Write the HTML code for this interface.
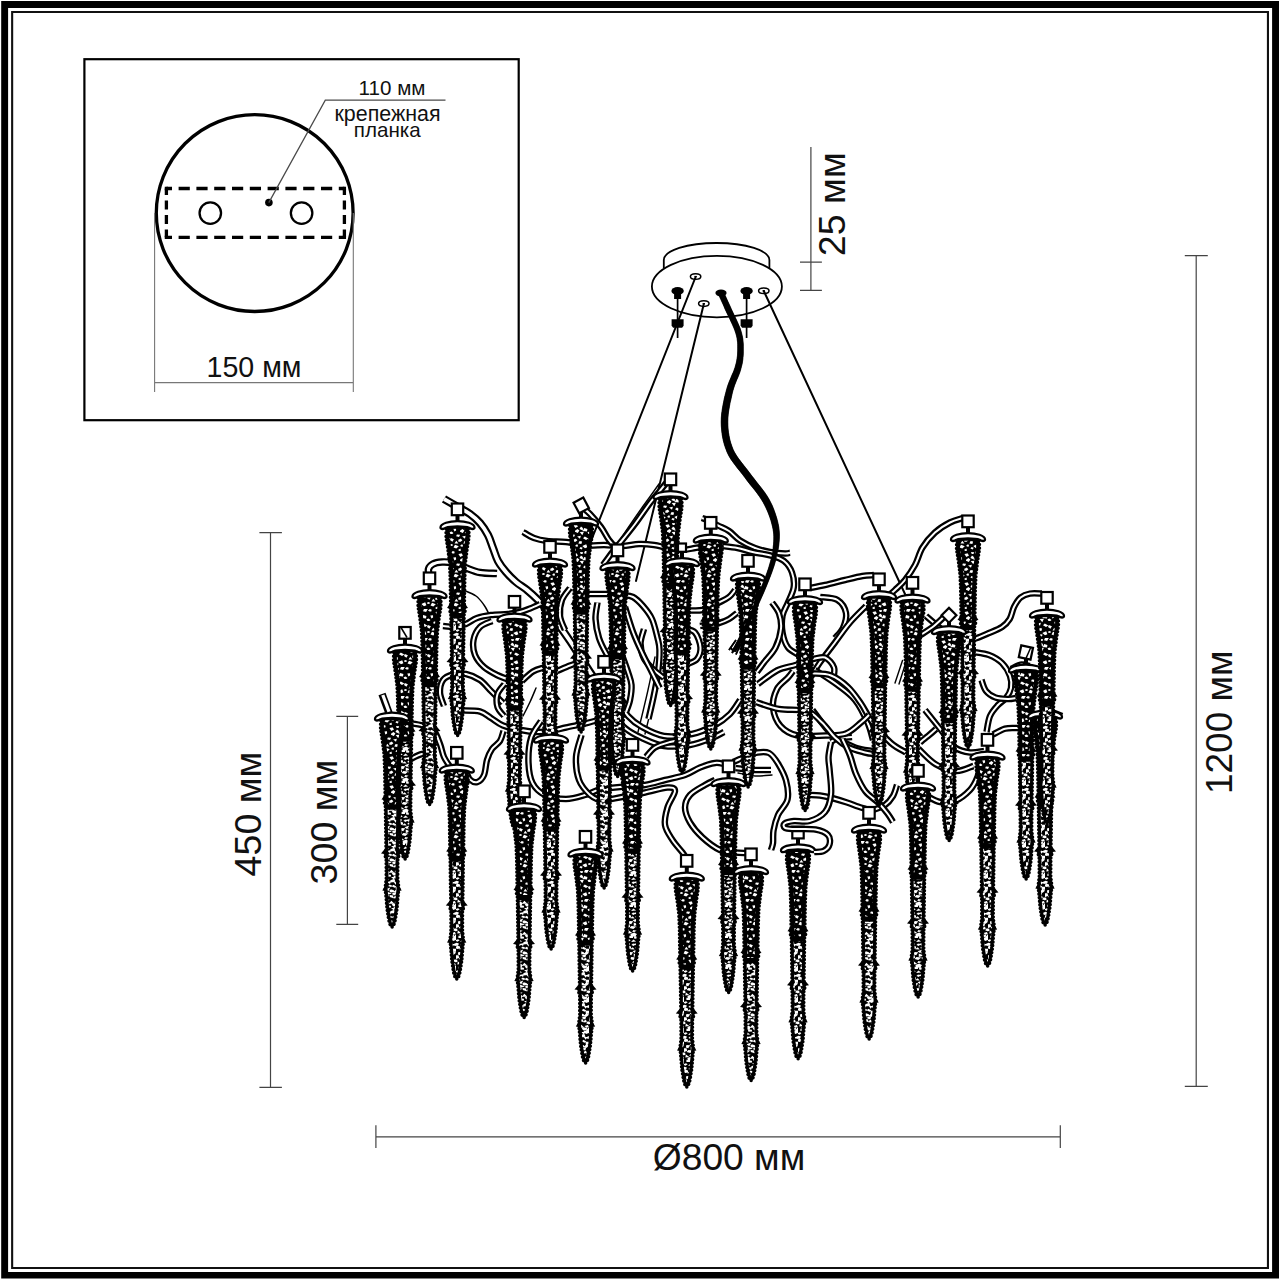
<!DOCTYPE html>
<html lang="ru"><head><meta charset="utf-8"><title>Схема люстры</title>
<style>
html,body{margin:0;padding:0;background:#fff}
body{width:1280px;height:1280px;overflow:hidden;font-family:"Liberation Sans",sans-serif}
svg{display:block}
text{font-family:"Liberation Sans",sans-serif;fill:#111}
.bd{fill:none;stroke:#000;stroke-width:3.4;stroke-linecap:round;stroke-linejoin:round;stroke-dasharray:0.1 3.5}
.bk{fill:none;stroke:#000;stroke-width:3.6;stroke-linejoin:round}
.sp1{fill:none;stroke:#fff;stroke-width:3.1;stroke-dasharray:3.1 2.1 3.8 2.7 2.6 1.9}
.sp2{fill:none;stroke:#fff;stroke-width:2.8;stroke-dasharray:2.4 3.1 3.3 2.2 2.9 3.6}
.cp{fill:#fff;stroke:#000;stroke-width:2.3;stroke-linejoin:round}
.sq{fill:#fff;stroke:#000;stroke-width:2.2}
.st{fill:none;stroke:#000;stroke-width:4}
.ln{fill:none;stroke:#000;stroke-width:1.5}
.to{fill:none;stroke:#000;stroke-width:6.5;stroke-linecap:butt;stroke-linejoin:round}
.ti{fill:none;stroke:#fff;stroke-width:2;stroke-linecap:butt;stroke-linejoin:round}
.wr{fill:none;stroke:#000;stroke-linecap:round}
.dim{fill:none;stroke:#444;stroke-width:1.2}
.dimg{fill:none;stroke:#777;stroke-width:1.1}
</style></head><body>
<svg width="1280" height="1280" viewBox="0 0 1280 1280">
<defs>
<pattern id="pa" width="23" height="29" patternUnits="userSpaceOnUse">
<rect width="23" height="29" fill="#000"/>
<path fill="#fff" d="M8.0,16.2L9.8,14.4L13.3,16.4L11.0,17.9ZM19.1,14.2L19.9,12.4L23.1,12.7L22.0,15.0ZM5.0,16.7L2.1,14.5L5.9,13.8ZM13.3,22.3L15.4,22.0L15.8,23.7L13.4,24.1ZM2.4,6.9L4.4,8.4L2.8,10.9L-0.9,9.4ZM0.1,24.1L1.3,22.5L3.1,22.8L2.4,25.0ZM14.0,1.5L15.9,0.0L17.7,0.7L17.3,2.4L15.6,2.4ZM14.0,30.5L15.9,29.0L17.7,29.7L17.3,31.4L15.6,31.4ZM-2.0,-1.1L0.4,-2.5L1.0,-0.6L-0.4,0.1ZM-2.0,27.9L0.4,26.5L1.0,28.4L-0.4,29.1ZM21.0,-1.1L23.4,-2.5L24.0,-0.6L22.6,0.1ZM21.0,27.9L23.4,26.5L24.0,28.4L22.6,29.1ZM13.0,18.1L13.8,15.9L16.9,17.2L15.4,19.7ZM10.0,26.2L7.3,24.1L11.2,22.2L12.4,25.3ZM9.2,5.9L12.4,7.0L12.0,9.5L7.7,9.1ZM17.5,21.5L19.3,18.8L21.4,21.5ZM8.2,1.2L7.5,2.9L5.7,3.0L5.0,0.9ZM17.4,9.4L16.3,6.5L19.0,6.3L19.1,8.4ZM3.3,21.6L4.6,19.0L7.1,19.6L6.4,21.9ZM2.4,18.3L0.7,19.8L-1.6,19.8L-1.7,17.7L0.7,16.6ZM25.4,18.3L23.7,19.8L21.4,19.8L21.3,17.7L23.7,16.6ZM15.3,12.1L13.5,12.0L12.5,10.3L14.6,9.4L16.5,11.0ZM3.0,4.4L0.2,5.9L-1.6,3.1L1.5,2.2ZM26.0,4.4L23.2,5.9L21.4,3.1L24.5,2.2ZM12.1,3.1L9.0,2.2L10.3,-0.8L13.8,0.0ZM7.3,13.2L4.7,9.9L8.9,9.7ZM6.7,27.5L4.4,26.5L5.6,25.1L7.7,25.8ZM21.8,24.3L19.3,26.6L16.5,25.6L18.0,22.7ZM7.9,5.9L7.9,8.5L4.4,7.0L6.0,4.4Z"/>
</pattern>
<pattern id="pb" width="19" height="31" patternUnits="userSpaceOnUse">
<rect width="19" height="31" fill="#000"/>
<path fill="#fff" d="M10.9,21.2L13.8,22.2L14.4,24.1L10.6,24.4L9.2,22.7ZM12.4,29.9L15.4,27.7L17.1,29.2L15.2,30.6ZM-2.9,14.2L0.6,12.8L2.9,13.4L2.2,15.5L-1.1,16.0ZM16.1,14.2L19.6,12.8L21.9,13.4L21.2,15.5L17.9,16.0ZM20.7,18.7L20.5,21.9L15.9,21.8L15.5,18.8ZM17.9,1.9L18.8,4.0L16.4,4.7L14.5,2.9ZM7.4,8.8L6.8,6.2L10.8,6.7L11.2,8.5ZM10.9,19.0L8.1,18.0L9.7,16.5L13.0,17.9ZM18.7,4.3L21.7,7.6L15.9,7.8ZM2.5,28.9L4.4,27.0L9.3,27.5L6.3,30.0ZM9.2,4.5L11.3,1.8L14.8,5.1ZM-2.0,25.0L2.5,25.3L3.2,27.7L0.3,29.0L-2.2,27.8ZM2.4,5.8L6.4,5.2L5.9,7.9L2.4,8.1ZM20.7,9.4L16.0,11.1L13.3,8.1L18.3,7.0ZM5.3,2.9L1.3,3.4L1.9,0.6ZM5.8,17.2L7.7,19.6L3.1,19.2ZM13.7,13.9L17.7,13.7L15.7,16.7ZM6.9,16.1L4.4,15.0L6.0,13.6L8.3,14.2ZM6.2,22.2L4.2,25.3L1.8,24.4L2.4,22.0ZM6.4,9.5L9.1,11.6L4.1,11.9ZM1.4,11.7L-1.0,10.4L2.0,9.2L3.7,10.3ZM9.6,27.0L13.5,27.5L12.8,29.9L9.8,29.0ZM11.8,25.5L6.8,27.1L6.7,23.6ZM12.3,26.4L12.4,24.9L16.3,24.3L15.3,27.5ZM10.6,14.6L10.3,12.3L14.3,10.7L15.5,13.8ZM7.2,2.1L5.2,1.7L6.4,0.1L9.7,0.7ZM7.2,33.1L5.2,32.7L6.4,31.1L9.7,31.7ZM-0.4,17.8L0.9,15.6L4.0,16.6L4.1,18.4L1.0,19.1ZM12.0,18.5L13.4,16.8L16.3,18.5L14.6,19.8ZM-0.5,1.3L-2.9,0.3L-1.6,-1.5L1.2,-1.3L1.5,0.8ZM-0.5,32.3L-2.9,31.3L-1.6,29.5L1.2,29.7L1.5,31.8ZM18.5,1.3L16.1,0.3L17.4,-1.5L20.2,-1.3L20.5,0.8ZM18.5,32.3L16.1,31.3L17.4,29.5L20.2,29.7L20.5,31.8ZM13.9,11.6L11.0,8.9L15.4,8.9ZM5.5,21.3L10.3,19.6L8.3,23.3ZM9.6,3.9L8.5,6.7L4.0,6.2L3.4,3.9L7.3,2.4ZM6.6,14.1L10.9,13.0L10.1,15.9ZM16.2,21.4L19.3,22.5L16.7,24.8L13.6,23.7ZM16.9,4.9L17.1,6.6L13.7,7.6L11.7,5.8L13.1,4.3Z"/>
</pattern>
</defs>
<rect width="1280" height="1280" fill="#fff"/>

<path fill-rule="evenodd" fill="#000" d="M1.2,1.1H1279V1278.6H1.2Z M8.1,8H1272.1V1271.9H8.1Z"/>
<path fill-rule="evenodd" fill="#111" d="M11.1,11H1269V1269H11.1Z M13.2,13.1H1266.9V1266.9H13.2Z"/>
<rect x="84.4" y="59.2" width="434.3" height="361" fill="none" stroke="#000" stroke-width="2.2"/>
<circle cx="254.7" cy="213.1" r="98.4" fill="none" stroke="#000" stroke-width="3.3"/>
<path d="M166.4,188.5H344.4M166.4,237.3H344.4" fill="none" stroke="#000" stroke-width="3.3" stroke-dasharray="11.2 6.6" stroke-dashoffset="5.6"/>
<path d="M166.4,188.5V237.3M344.4,188.5V237.3" fill="none" stroke="#000" stroke-width="3.3" stroke-dasharray="8.9 5.6" stroke-dashoffset="2.4"/>
<path d="M164.75,186.85h3.3v3.3h-3.3zM342.75,186.85h3.3v3.3h-3.3zM164.75,235.65h3.3v3.3h-3.3zM342.75,235.65h3.3v3.3h-3.3z" fill="#000"/>
<circle cx="210.3" cy="213.1" r="10.75" fill="none" stroke="#000" stroke-width="2.3"/>
<circle cx="301.6" cy="213.1" r="10.75" fill="none" stroke="#000" stroke-width="2.3"/>
<circle cx="268.9" cy="202.6" r="3.8" fill="#000"/>
<path d="M268.8,202.6 L325.3,100.2 H445.5" fill="none" stroke="#4a4a4a" stroke-width="1.25"/>
<path d="M154.6,213 V392 M353.3,213 V392 M154.6,382.6 H353.3" class="dimg"/>
<text x="358.6" y="94.5" font-size="20.6">110 мм</text>
<text x="387.5" y="121.3" font-size="21.4" text-anchor="middle">крепежная</text>
<text x="387.3" y="137" font-size="20.6" text-anchor="middle">планка</text>
<text x="254" y="376.8" font-size="28.6" text-anchor="middle">150 мм</text>
<path d="M270.5,532.6 V1087.4 M259.4,532.6 H281.9 M259.4,1087.4 H281.9" class="dim"/>
<path d="M347.4,716.3 V924.4 M336.3,716.3 H358.2 M336.3,924.4 H358.2" class="dim"/>
<path d="M1196.2,255.7 V1086.3 M1184.8,255.7 H1207.8 M1184.8,1086.3 H1207.8" class="dim"/>
<path d="M810.9,146.9 V290.3 M800,262.2 H821.9 M800,290.3 H821.9" class="dim"/>
<path d="M375.9,1136.8 H1060.3 M375.9,1125.3 V1148.1 M1060.3,1125.3 V1148.1" class="dim" stroke="#555"/>
<text transform="translate(261.3,814) rotate(-90)" font-size="37.6" text-anchor="middle">450 мм</text>
<text transform="translate(336.6,822) rotate(-90)" font-size="37.6" text-anchor="middle">300 мм</text>
<text transform="translate(1231.8,722.3) rotate(-90)" font-size="37" text-anchor="middle">1200 мм</text>
<text transform="translate(844.7,204.2) rotate(-90)" font-size="37.6" text-anchor="middle">25 мм</text>
<text x="729" y="1170.3" font-size="37.2" text-anchor="middle">Ø800 мм</text>
<path d="M663.8,268 V260 A52.8,17 0 0 1 769.4,260 V268" fill="#fff" stroke="#000" stroke-width="1.8"/>
<ellipse cx="716.9" cy="286.6" rx="65" ry="30.7" fill="#fff" stroke="#000" stroke-width="1.8"/>
<ellipse cx="695.6" cy="276.5" rx="5.2" ry="2.8" fill="#fff" stroke="#000" stroke-width="1.5"/>
<path d="M694.4,276.5 h2.4" stroke="#000" stroke-width="1.2"/>
<ellipse cx="703.8" cy="303.6" rx="5.2" ry="2.8" fill="#fff" stroke="#000" stroke-width="1.5"/>
<path d="M702.5999999999999,303.6 h2.4" stroke="#000" stroke-width="1.2"/>
<ellipse cx="763.8" cy="290.8" rx="5.2" ry="2.8" fill="#fff" stroke="#000" stroke-width="1.5"/>
<path d="M762.5999999999999,290.8 h2.4" stroke="#000" stroke-width="1.2"/>
<ellipse cx="677.6" cy="291" rx="6.2" ry="3.9" fill="#000"/>
<rect x="674.1" y="291" width="7" height="8" fill="#000"/>
<path d="M677.6,298 V338" stroke="#000" stroke-width="1.7"/>
<path d="M671.6,319.3 h12 v6.5 l-1.5,2 h-9 l-1.5,-2z" fill="#000"/>
<ellipse cx="746.6" cy="291" rx="6.2" ry="3.9" fill="#000"/>
<rect x="743.1" y="291" width="7" height="8" fill="#000"/>
<path d="M746.6,298 V338" stroke="#000" stroke-width="1.7"/>
<path d="M740.6,319.3 h12 v6.5 l-1.5,2 h-9 l-1.5,-2z" fill="#000"/>
<ellipse cx="721" cy="293" rx="5.6" ry="3.4" fill="#000"/>
<path d="M655,657C653.8,662.5 650.8,677.5 648,690C645.2,702.5 639.7,725 638,732" class="wr" stroke-width="1.4"/>
<path d="M661,660C660,665.3 657.7,679.7 655,692C652.3,704.3 646.7,727 645,734" class="wr" stroke-width="1.4"/>
<path d="M902.5,660.5L895,683" class="wr" stroke-width="1.4"/>
<path d="M906,662L899,684" class="wr" stroke-width="1.4"/>
<path d="M738,773C740.8,773.5 749.3,775.7 755,776C760.7,776.3 769.2,775.2 772,775" class="wr" stroke-width="1.4"/>
<path d="M695.6,277L591,541" class="wr" stroke-width="2.0"/>
<path d="M703.8,304L636,581" class="wr" stroke-width="2.0"/>
<path d="M763.8,291L905,594" class="wr" stroke-width="2.0"/>
<path d="M463,590C465.2,591 472.5,593.5 476,596C479.5,598.5 481.8,602 484,605C486.2,608 488.2,612.5 489,614" class="wr" stroke-width="1.5"/>
<path d="M536,688C535,690.3 532.2,697.3 530,702C527.8,706.7 524.2,713.7 523,716" class="wr" stroke-width="1.5"/>
<path d="M659,484C656.2,487.8 647.7,499.7 642.5,507C637.3,514.3 632.6,521.2 628,528C623.4,534.8 617.2,544.7 615,548" class="wr" stroke-width="1.5"/>
<path d="M718.4,294.1L718.9,295.2L719.5,296.5L720.2,298.1L721,299.8L721.9,301.8L722.9,303.9L723.9,306.2L724.9,308.7L726.2,311.4L727.6,314.4L729.2,317.6L730.7,320.9L732.3,324.3L733.7,327.5L734.9,330.6L735.8,333.3L736.5,335.8L737,338.1L737.3,340.3L737.6,342.5L737.7,344.6L737.7,346.7L737.7,348.8L737.7,350.9L737.6,353L737.5,355L737.3,356.9L737,358.8L736.7,360.7L736.3,362.7L735.7,364.9L735.1,367.2L734.3,369.5L733.4,372L732.2,374.6L731,377.4L729.8,380.3L728.5,383.5L727.4,386.7L726.4,390.2L725.5,393.7L724.5,397.5L723.7,401.5L722.9,405.6L722.2,409.7L721.6,413.9L721.3,418L721.2,422L721.3,425.9L721.6,429.7L722,433.5L722.6,437.3L723.4,441L724.4,444.7L725.6,448.3L727,451.9L728.7,455.5L730.7,458.9L733,462.2L735.3,465.3L737.7,468.4L740.2,471.5L742.6,474.5L744.9,477.6L747.2,480.7L749.7,483.9L752.2,487L754.7,490.1L757.1,493.2L759.3,496.3L761.3,499.3L763.1,502.2L764.7,505.2L766.2,508.3L767.6,511.4L768.8,514.4L769.9,517.4L770.9,520.4L771.7,523.4L772.4,526.2L773,528.9L773.4,531.5L773.7,534.1L773.8,536.6L773.8,539.1L773.7,541.7L773.5,544.4L773.2,547.2L772.9,550L772.4,552.8L771.9,555.6L771.3,558.4L770.5,561.4L769.6,564.6L768.6,568L767.3,571.8L765.8,575.9L764.1,580.4L762.1,585.2L760,590.2L757.9,595.2L755.8,600.2L753.8,604.8L751.9,609.2L750.2,613.2L748.4,617.2L746.7,621L745,624.7L743.5,628.2L741.9,631.4L740.5,634.4L739.3,637.2L738.1,639.6L737,641.7L736,643.6L735.1,645.3L734.3,646.8L733.5,648.1L732.9,649.2L732.4,650.1L735.6,651.9L736.1,651L736.7,649.9L737.5,648.7L738.3,647.2L739.3,645.4L740.4,643.5L741.5,641.3L742.7,638.8L744.1,636.1L745.5,633.1L747.1,629.9L748.7,626.4L750.4,622.7L752.1,618.8L753.9,614.9L755.7,610.8L757.6,606.5L759.6,601.8L761.8,596.9L764,591.9L766.1,586.9L768.1,582L769.9,577.4L771.5,573.2L772.8,569.5L774,566L775,562.7L775.9,559.6L776.7,556.6L777.4,553.7L777.9,550.8L778.4,547.8L778.8,544.9L779.1,542.1L779.3,539.3L779.4,536.5L779.4,533.7L779.2,530.9L778.9,528L778.4,525L777.7,521.9L776.9,518.7L775.9,515.5L774.8,512.2L773.6,508.9L772.2,505.5L770.6,502.3L768.9,499L766.9,495.7L764.7,492.4L762.3,489.2L759.8,486.1L757.3,482.9L754.9,479.8L752.5,476.7L750.1,473.6L747.8,470.5L745.4,467.4L742.9,464.3L740.6,461.3L738.3,458.3L736.3,455.3L734.5,452.3L733,449.3L731.8,446.1L730.7,442.8L729.8,439.5L729.1,436.1L728.5,432.6L728.1,429.1L727.9,425.6L727.8,422L727.9,418.4L728.2,414.6L728.7,410.7L729.4,406.7L730.1,402.8L731,399L731.8,395.3L732.6,391.8L733.5,388.7L734.5,385.6L735.6,382.7L736.8,379.8L738,377L739.1,374.3L740.1,371.5L740.9,368.8L741.5,366.3L742.1,364L742.5,361.8L742.8,359.6L743,357.5L743.2,355.4L743.3,353.3L743.3,351.1L743.3,348.8L743.3,346.6L743.3,344.3L743.1,342L742.9,339.6L742.5,337.1L741.9,334.5L741.2,331.7L740.2,328.6L738.9,325.4L737.4,322L735.8,318.6L734.2,315.2L732.7,312L731.3,309L730.1,306.3L729,303.9L728,301.7L727,299.5L726.1,297.5L725.3,295.8L724.6,294.2L724,292.9L723.6,291.9Z" fill="#000" stroke="#000" stroke-width="0.4" stroke-linejoin="round"/><path d="M738,642 l-6,11 M740.5,644 l-4.5,10.5 M736,640 l-7,10 M734,652 l-3,-4" stroke="#000" stroke-width="1.6"/>
<path d="M444,499C446.3,500.3 453.7,504.5 458,507C462.3,509.5 466.3,511.3 470,514C473.7,516.7 477,519.5 480,523C483,526.5 485.8,530.8 488,535C490.2,539.2 491.3,543.7 493,548C494.7,552.3 495.8,557 498,561C500.2,565 503,568.5 506,572C509,575.5 512.5,579 516,582C519.5,585 523.3,587 527,590C530.7,593 534.5,596.5 538,600C541.5,603.5 544.7,607 548,611C551.3,615 554.3,619 558,624C561.7,629 566.2,635.3 570,641C573.8,646.7 577.3,652.3 581,658C584.7,663.7 588.3,669.7 592,675C595.7,680.3 599.7,685.3 603,690C606.3,694.7 610.5,700.8 612,703" class="to" style="stroke-width:8.2"/><path d="M444,499C446.3,500.3 453.7,504.5 458,507C462.3,509.5 466.3,511.3 470,514C473.7,516.7 477,519.5 480,523C483,526.5 485.8,530.8 488,535C490.2,539.2 491.3,543.7 493,548C494.7,552.3 495.8,557 498,561C500.2,565 503,568.5 506,572C509,575.5 512.5,579 516,582C519.5,585 523.3,587 527,590C530.7,593 534.5,596.5 538,600C541.5,603.5 544.7,607 548,611C551.3,615 554.3,619 558,624C561.7,629 566.2,635.3 570,641C573.8,646.7 577.3,652.3 581,658C584.7,663.7 588.3,669.7 592,675C595.7,680.3 599.7,685.3 603,690C606.3,694.7 610.5,700.8 612,703" class="ti" style="stroke-width:3.8"/>
<path d="M429.5,576C429.3,574.8 427.9,571 428.5,569C429.1,567 430.8,565.2 433,564C435.2,562.8 438.7,562.2 442,562C445.3,561.8 449.2,562.1 453,563C456.8,563.9 460.5,565.9 465,567.5C469.5,569.1 474.7,571.5 480,572.5C485.3,573.5 494.2,573.3 497,573.5" class="to" style="stroke-width:7.6"/><path d="M429.5,576C429.3,574.8 427.9,571 428.5,569C429.1,567 430.8,565.2 433,564C435.2,562.8 438.7,562.2 442,562C445.3,561.8 449.2,562.1 453,563C456.8,563.9 460.5,565.9 465,567.5C469.5,569.1 474.7,571.5 480,572.5C485.3,573.5 494.2,573.3 497,573.5" class="ti" style="stroke-width:3.2"/>
<path d="M540,604C538.3,604.8 533.3,607.2 530,608.5C526.7,609.8 523.7,611.1 520,612C516.3,612.9 512.8,613.5 508,614C503.2,614.5 496.2,614.3 491,615C485.8,615.7 481.2,616.5 477,618C472.8,619.5 469.7,622.5 466,624C462.3,625.5 458.8,626.7 455,627C451.2,627.3 445,626.2 443,626" class="to"/><path d="M540,604C538.3,604.8 533.3,607.2 530,608.5C526.7,609.8 523.7,611.1 520,612C516.3,612.9 512.8,613.5 508,614C503.2,614.5 496.2,614.3 491,615C485.8,615.7 481.2,616.5 477,618C472.8,619.5 469.7,622.5 466,624C462.3,625.5 458.8,626.7 455,627C451.2,627.3 445,626.2 443,626" class="ti"/>
<path d="M492,621C490,622 483.1,623.8 480,627C476.9,630.2 474.3,635.3 473.5,640C472.7,644.7 473.2,650.5 475,655C476.8,659.5 480.3,663.7 484,667C487.7,670.3 492.7,672.8 497,675C501.3,677.2 507.8,679.2 510,680" class="to"/><path d="M492,621C490,622 483.1,623.8 480,627C476.9,630.2 474.3,635.3 473.5,640C472.7,644.7 473.2,650.5 475,655C476.8,659.5 480.3,663.7 484,667C487.7,670.3 492.7,672.8 497,675C501.3,677.2 507.8,679.2 510,680" class="ti"/>
<path d="M523,532C524.8,533 530,536.5 534,538C538,539.5 541.7,540.3 547,541C552.3,541.7 560.5,541.3 566,542C571.5,542.7 577.7,544.5 580,545" class="to"/><path d="M523,532C524.8,533 530,536.5 534,538C538,539.5 541.7,540.3 547,541C552.3,541.7 560.5,541.3 566,542C571.5,542.7 577.7,544.5 580,545" class="ti"/>
<path d="M570,588C568.7,590 563.7,595.3 562,600C560.3,604.7 559.5,611 560,616C560.5,621 564.2,627.7 565,630" class="to"/><path d="M570,588C568.7,590 563.7,595.3 562,600C560.3,604.7 559.5,611 560,616C560.5,621 564.2,627.7 565,630" class="ti"/>
<path d="M444,706C443.3,703.8 440.2,697.3 440,693C439.8,688.7 440.8,683.1 443,680C445.2,676.9 449.2,675.5 453,674.5C456.8,673.5 461.5,673.1 466,674C470.5,674.9 475.8,677.2 480,680C484.2,682.8 487.2,687.2 491,691C494.8,694.8 501,701 503,703" class="to"/><path d="M444,706C443.3,703.8 440.2,697.3 440,693C439.8,688.7 440.8,683.1 443,680C445.2,676.9 449.2,675.5 453,674.5C456.8,673.5 461.5,673.1 466,674C470.5,674.9 475.8,677.2 480,680C484.2,682.8 487.2,687.2 491,691C494.8,694.8 501,701 503,703" class="ti"/>
<path d="M461,710.5C464.2,710.7 475,710.2 480,711.5C485,712.8 487.2,715.7 491,718C494.8,720.3 498,723.5 503,725.5C508,727.5 515.5,728.9 521,730C526.5,731.1 531,731.8 536,732C541,732.2 546,731.8 551,731C556,730.2 560.3,728.8 566,727.5C571.7,726.2 579,724.9 585,723.5C591,722.1 599.2,719.8 602,719" class="to"/><path d="M461,710.5C464.2,710.7 475,710.2 480,711.5C485,712.8 487.2,715.7 491,718C494.8,720.3 498,723.5 503,725.5C508,727.5 515.5,728.9 521,730C526.5,731.1 531,731.8 536,732C541,732.2 546,731.8 551,731C556,730.2 560.3,728.8 566,727.5C571.7,726.2 579,724.9 585,723.5C591,722.1 599.2,719.8 602,719" class="ti"/>
<path d="M408,723C410.5,723.4 418.7,724.2 423,725.5C427.3,726.8 431.2,727.9 434,731C436.8,734.1 438.3,739.7 440,744C441.7,748.3 442.2,753 444,757C445.8,761 449.8,766.2 451,768" class="to"/><path d="M408,723C410.5,723.4 418.7,724.2 423,725.5C427.3,726.8 431.2,727.9 434,731C436.8,734.1 438.3,739.7 440,744C441.7,748.3 442.2,753 444,757C445.8,761 449.8,766.2 451,768" class="ti"/>
<path d="M410,759.5C412,758.6 417.8,754.8 422,754C426.2,753.2 432.8,754.8 435,755" class="to"/><path d="M410,759.5C412,758.6 417.8,754.8 422,754C426.2,753.2 432.8,754.8 435,755" class="ti"/>
<path d="M466,771C466.7,772.4 468.1,777.7 470,779.5C471.9,781.3 475.2,782.8 477.5,782C479.8,781.2 482.4,778.7 484,775C485.6,771.3 485.7,764.3 487,760C488.3,755.7 489.8,752.2 492,749C494.2,745.8 498.1,744 500,741C501.9,738 502.9,732.7 503.5,731" class="to"/><path d="M466,771C466.7,772.4 468.1,777.7 470,779.5C471.9,781.3 475.2,782.8 477.5,782C479.8,781.2 482.4,778.7 484,775C485.6,771.3 485.7,764.3 487,760C488.3,755.7 489.8,752.2 492,749C494.2,745.8 498.1,744 500,741C501.9,738 502.9,732.7 503.5,731" class="ti"/>
<path d="M541,721C539.3,723.8 533.1,731 531,738C528.9,745 528.2,755.5 528.5,763C528.8,770.5 529.8,777.7 532.5,783C535.2,788.3 539.4,792.3 545,795C550.6,797.7 559.3,799 566,799C572.7,799 579.3,796.7 585,795C590.7,793.3 597.5,790 600,789" class="to"/><path d="M541,721C539.3,723.8 533.1,731 531,738C528.9,745 528.2,755.5 528.5,763C528.8,770.5 529.8,777.7 532.5,783C535.2,788.3 539.4,792.3 545,795C550.6,797.7 559.3,799 566,799C572.7,799 579.3,796.7 585,795C590.7,793.3 597.5,790 600,789" class="ti"/>
<path d="M581.5,735C580.6,738.7 576.4,749.5 576,757C575.6,764.5 576.7,773.7 579,780C581.3,786.3 586.3,791.5 590,795C593.7,798.5 599.2,800 601,801" class="to"/><path d="M581.5,735C580.6,738.7 576.4,749.5 576,757C575.6,764.5 576.7,773.7 579,780C581.3,786.3 586.3,791.5 590,795C593.7,798.5 599.2,800 601,801" class="ti"/>
<path d="M522,681C523.8,679.4 529.3,673.8 533,671.5C536.7,669.2 542.2,668.2 544,667.5" class="to"/><path d="M522,681C523.8,679.4 529.3,673.8 533,671.5C536.7,669.2 542.2,668.2 544,667.5" class="ti"/>
<path d="M557,671C559.2,670.1 566.5,666.8 570,665.5C573.5,664.2 576.7,663.4 578,663" class="to"/><path d="M557,671C559.2,670.1 566.5,666.8 570,665.5C573.5,664.2 576.7,663.4 578,663" class="ti"/>
<path d="M504.5,684C503.3,685.7 498.7,690.2 497.5,694C496.3,697.8 496.4,703.3 497.5,707C498.6,710.7 502.9,714.5 504,716" class="to"/><path d="M504.5,684C503.3,685.7 498.7,690.2 497.5,694C496.3,697.8 496.4,703.3 497.5,707C498.6,710.7 502.9,714.5 504,716" class="ti"/>
<path d="M586,546C589,545.8 598,545 604,545C610,545 616.2,546.2 622,546C627.8,545.8 633.7,544.2 639,544C644.3,543.8 649.2,544.3 654,545C658.8,545.7 663.3,547.2 668,548C672.7,548.8 677.5,550 682,550C686.5,550 691,548.7 695,548C699,547.3 704.2,546.3 706,546" class="to"/><path d="M586,546C589,545.8 598,545 604,545C610,545 616.2,546.2 622,546C627.8,545.8 633.7,544.2 639,544C644.3,543.8 649.2,544.3 654,545C658.8,545.7 663.3,547.2 668,548C672.7,548.8 677.5,550 682,550C686.5,550 691,548.7 695,548C699,547.3 704.2,546.3 706,546" class="ti"/>
<path d="M667,482C665.7,483.7 661.8,488.5 659,492C656.2,495.5 654,497.7 650,503C646,508.3 639.7,517.8 635,524C630.3,530.2 625.8,535.8 622,540.5C618.2,545.2 615.7,547.9 612.5,552C609.3,556.1 604.6,562.8 603,565" class="to"/><path d="M667,482C665.7,483.7 661.8,488.5 659,492C656.2,495.5 654,497.7 650,503C646,508.3 639.7,517.8 635,524C630.3,530.2 625.8,535.8 622,540.5C618.2,545.2 615.7,547.9 612.5,552C609.3,556.1 604.6,562.8 603,565" class="ti"/>
<path d="M583,508C584.2,509 587,510.8 590,514C593,517.2 597.8,522.7 601,527C604.2,531.3 606.3,536.3 609,540C611.7,543.7 615.7,547.5 617,549" class="to"/><path d="M583,508C584.2,509 587,510.8 590,514C593,517.2 597.8,522.7 601,527C604.2,531.3 606.3,536.3 609,540C611.7,543.7 615.7,547.5 617,549" class="ti"/>
<path d="M702,518C703.3,518.5 707.3,519.8 710,521C712.7,522.2 714.8,523.8 718,525.5C721.2,527.2 725.3,528.5 729,531C732.7,533.5 735.7,537.7 740,540.5C744.3,543.3 750,546.1 755,548C760,549.9 765,551.1 770,552C775,552.9 781.7,553.4 785,553.5C788.3,553.6 789.2,552.9 790,552.8" class="to"/><path d="M702,518C703.3,518.5 707.3,519.8 710,521C712.7,522.2 714.8,523.8 718,525.5C721.2,527.2 725.3,528.5 729,531C732.7,533.5 735.7,537.7 740,540.5C744.3,543.3 750,546.1 755,548C760,549.9 765,551.1 770,552C775,552.9 781.7,553.4 785,553.5C788.3,553.6 789.2,552.9 790,552.8" class="ti"/>
<path d="M722.5,546C725,546.3 732.5,547 737.5,548C742.5,549 746.9,550.7 752.5,552C758.1,553.3 765.8,554.1 771,555.6C776.2,557.1 780.5,558.2 784,561C787.5,563.8 790.4,568.1 792,572.5C793.6,576.9 794.4,582.5 793.7,587.5C793,592.5 789.9,597.8 788,602.5C786.1,607.2 783.4,610.6 782.5,615.6C781.6,620.6 781.6,627.2 782.5,632.5C783.4,637.8 785.2,643.8 788,647.5C790.8,651.2 797.2,653.8 799,655" class="to"/><path d="M722.5,546C725,546.3 732.5,547 737.5,548C742.5,549 746.9,550.7 752.5,552C758.1,553.3 765.8,554.1 771,555.6C776.2,557.1 780.5,558.2 784,561C787.5,563.8 790.4,568.1 792,572.5C793.6,576.9 794.4,582.5 793.7,587.5C793,592.5 789.9,597.8 788,602.5C786.1,607.2 783.4,610.6 782.5,615.6C781.6,620.6 781.6,627.2 782.5,632.5C783.4,637.8 785.2,643.8 788,647.5C790.8,651.2 797.2,653.8 799,655" class="ti"/>
<path d="M588,594C591,594 600.3,593.8 606,594C611.7,594.2 617.5,594.5 622,595C626.5,595.5 629.5,595.2 633,597C636.5,598.8 639.8,602.3 643,606C646.2,609.7 649.6,613.7 652,619C654.4,624.3 656.2,632.8 657.5,638C658.8,643.2 659.4,644.2 659.5,650C659.6,655.8 659,664.6 658,672.5C657,680.4 655,689.8 653.4,697.5C651.8,705.2 649.3,715.4 648.5,719" class="to"/><path d="M588,594C591,594 600.3,593.8 606,594C611.7,594.2 617.5,594.5 622,595C626.5,595.5 629.5,595.2 633,597C636.5,598.8 639.8,602.3 643,606C646.2,609.7 649.6,613.7 652,619C654.4,624.3 656.2,632.8 657.5,638C658.8,643.2 659.4,644.2 659.5,650C659.6,655.8 659,664.6 658,672.5C657,680.4 655,689.8 653.4,697.5C651.8,705.2 649.3,715.4 648.5,719" class="ti"/>
<path d="M683.5,610C686.7,610 696.6,611.2 702.5,610C708.4,608.8 714.6,604.7 719,602.5C723.4,600.3 726.3,599.1 729,597C731.7,594.9 734,591.2 735,590" class="to"/><path d="M683.5,610C686.7,610 696.6,611.2 702.5,610C708.4,608.8 714.6,604.7 719,602.5C723.4,600.3 726.3,599.1 729,597C731.7,594.9 734,591.2 735,590" class="ti"/>
<path d="M700,626C703.2,625.5 714.2,624.2 719,623C723.8,621.8 726,620.7 729,619C732,617.3 735.7,614 737,613" class="to"/><path d="M700,626C703.2,625.5 714.2,624.2 719,623C723.8,621.8 726,620.7 729,619C732,617.3 735.7,614 737,613" class="ti"/>
<path d="M683.5,628.5C685.4,629.2 692.2,629.3 695,632.5C697.8,635.7 700.2,643.1 700.5,647.5C700.8,651.9 699.2,656.2 697,659C694.8,661.8 689.1,663.2 687.5,664" class="to"/><path d="M683.5,628.5C685.4,629.2 692.2,629.3 695,632.5C697.8,635.7 700.2,643.1 700.5,647.5C700.8,651.9 699.2,656.2 697,659C694.8,661.8 689.1,663.2 687.5,664" class="ti"/>
<path d="M597.5,602.5C597.2,605.2 595.2,613.1 595.5,619C595.8,624.9 597.1,632 599,638C600.9,644 604.3,650 607,655C609.7,660 613.7,665.8 615,668" class="to"/><path d="M597.5,602.5C597.2,605.2 595.2,613.1 595.5,619C595.8,624.9 597.1,632 599,638C600.9,644 604.3,650 607,655C609.7,660 613.7,665.8 615,668" class="ti"/>
<path d="M644,629C643.4,631.4 640.5,638.6 640.5,643.5C640.5,648.4 641.8,654.1 644,658.5C646.2,662.9 650.7,666.8 654,670C657.3,673.2 662.3,676.7 664,678" class="to"/><path d="M644,629C643.4,631.4 640.5,638.6 640.5,643.5C640.5,648.4 641.8,654.1 644,658.5C646.2,662.9 650.7,666.8 654,670C657.3,673.2 662.3,676.7 664,678" class="ti"/>
<path d="M772,602.5C773.2,604.3 777.5,609.2 779,613.5C780.5,617.8 781.6,622.8 781,628.5C780.4,634.2 778.3,641.8 775.5,647.5C772.7,653.2 767.1,658.4 764,662.5C760.9,666.6 758.2,670.4 757,672" class="to"/><path d="M772,602.5C773.2,604.3 777.5,609.2 779,613.5C780.5,617.8 781.6,622.8 781,628.5C780.4,634.2 778.3,641.8 775.5,647.5C772.7,653.2 767.1,658.4 764,662.5C760.9,666.6 758.2,670.4 757,672" class="ti"/>
<path d="M963,518C960.8,518.8 954.7,520.1 950,522.5C945.3,524.9 939.6,528.3 935,532.5C930.4,536.7 925.8,542.1 922.5,547.5C919.2,552.9 917.9,559.6 915,565C912.1,570.4 908.3,575.8 905,580C901.7,584.2 897.8,587.3 895,590C892.2,592.7 889.2,595 888,596" class="to"/><path d="M963,518C960.8,518.8 954.7,520.1 950,522.5C945.3,524.9 939.6,528.3 935,532.5C930.4,536.7 925.8,542.1 922.5,547.5C919.2,552.9 917.9,559.6 915,565C912.1,570.4 908.3,575.8 905,580C901.7,584.2 897.8,587.3 895,590C892.2,592.7 889.2,595 888,596" class="ti"/>
<path d="M874,575C872.1,575.2 867.3,575.2 862.5,576C857.7,576.8 851.2,578.5 845,580C838.8,581.5 830.8,583.7 825,585C819.2,586.3 812.5,587.5 810,588" class="to"/><path d="M874,575C872.1,575.2 867.3,575.2 862.5,576C857.7,576.8 851.2,578.5 845,580C838.8,581.5 830.8,583.7 825,585C819.2,586.3 812.5,587.5 810,588" class="ti"/>
<path d="M820,597C822.9,597.5 833.2,597.3 837.5,600C841.8,602.7 845.1,608.3 846,613C846.9,617.7 844.8,623.8 843,628C841.2,632.2 836.3,636.3 835,638" class="to"/><path d="M820,597C822.9,597.5 833.2,597.3 837.5,600C841.8,602.7 845.1,608.3 846,613C846.9,617.7 844.8,623.8 843,628C841.2,632.2 836.3,636.3 835,638" class="ti"/>
<path d="M866,606C863.3,608.8 855.2,616.4 850,622.5C844.8,628.6 840,635.8 835,642.5C830,649.2 824,656.8 820,662.5C816,668.2 812.5,674.6 811,677" class="to"/><path d="M866,606C863.3,608.8 855.2,616.4 850,622.5C844.8,628.6 840,635.8 835,642.5C830,649.2 824,656.8 820,662.5C816,668.2 812.5,674.6 811,677" class="ti"/>
<path d="M1042,593.6C1040,593.6 1033.6,593 1030,593.6C1026.4,594.2 1023.3,595.3 1020.6,597.5C1017.9,599.7 1015.8,603.4 1014,607C1012.2,610.6 1011.7,615.7 1009.7,619C1007.7,622.3 1005.5,624.7 1002,627C998.5,629.3 993.2,631.2 989,633C984.8,634.8 980.2,636.8 977,638C973.8,639.2 971.2,639.7 970,640" class="to"/><path d="M1042,593.6C1040,593.6 1033.6,593 1030,593.6C1026.4,594.2 1023.3,595.3 1020.6,597.5C1017.9,599.7 1015.8,603.4 1014,607C1012.2,610.6 1011.7,615.7 1009.7,619C1007.7,622.3 1005.5,624.7 1002,627C998.5,629.3 993.2,631.2 989,633C984.8,634.8 980.2,636.8 977,638C973.8,639.2 971.2,639.7 970,640" class="ti"/>
<path d="M926,616C928.3,618 935,623.8 940,628C945,632.2 953.3,638.8 956,641" class="to"/><path d="M926,616C928.3,618 935,623.8 940,628C945,632.2 953.3,638.8 956,641" class="ti"/>
<path d="M919,636C921.5,634.3 929.2,629.8 934,626C938.8,622.2 945.7,615.2 948,613" class="to"/><path d="M919,636C921.5,634.3 929.2,629.8 934,626C938.8,622.2 945.7,615.2 948,613" class="ti"/>
<path d="M974,652C976.5,652.5 984.3,653.2 989,655C993.7,656.8 998.5,659.5 1002,663C1005.5,666.5 1008.5,671.8 1010,676C1011.5,680.2 1011.7,684.3 1011,688C1010.3,691.7 1008.2,695.2 1006,698C1003.8,700.8 1000.7,702 998,705C995.3,708 991.9,711.5 990,716C988.1,720.5 987.1,729.3 986.5,732" class="to"/><path d="M974,652C976.5,652.5 984.3,653.2 989,655C993.7,656.8 998.5,659.5 1002,663C1005.5,666.5 1008.5,671.8 1010,676C1011.5,680.2 1011.7,684.3 1011,688C1010.3,691.7 1008.2,695.2 1006,698C1003.8,700.8 1000.7,702 998,705C995.3,708 991.9,711.5 990,716C988.1,720.5 987.1,729.3 986.5,732" class="ti"/>
<path d="M981.5,680C982.2,681.8 983.7,688.1 986,691C988.3,693.9 991.8,696.2 995.5,697.5C999.2,698.8 1004.6,698.9 1008,699C1011.4,699.1 1014.7,698.2 1016,698" class="to"/><path d="M981.5,680C982.2,681.8 983.7,688.1 986,691C988.3,693.9 991.8,696.2 995.5,697.5C999.2,698.8 1004.6,698.9 1008,699C1011.4,699.1 1014.7,698.2 1016,698" class="ti"/>
<path d="M1011,669C1012.6,668.3 1017.3,665.2 1020.5,664.7C1023.7,664.2 1028.4,665.8 1030,666" class="to"/><path d="M1011,669C1012.6,668.3 1017.3,665.2 1020.5,664.7C1023.7,664.2 1028.4,665.8 1030,666" class="ti"/>
<path d="M993,734.5C995,733.5 1001.2,729.8 1005,728.7C1008.8,727.6 1012.5,728 1016,728C1019.5,728 1024.3,728.8 1026,729" class="to"/><path d="M993,734.5C995,733.5 1001.2,729.8 1005,728.7C1008.8,727.6 1012.5,728 1016,728C1019.5,728 1024.3,728.8 1026,729" class="ti"/>
<path d="M1052,712L1062,716" class="to"/><path d="M1052,712L1062,716" class="ti"/>
<path d="M800,658C802,658.2 807.8,659.1 812,659C816.2,658.9 821.3,656.1 825,657.5C828.7,658.9 832.7,663.8 834,667.5C835.3,671.2 833.2,677.9 833,680" class="to"/><path d="M800,658C802,658.2 807.8,659.1 812,659C816.2,658.9 821.3,656.1 825,657.5C828.7,658.9 832.7,663.8 834,667.5C835.3,671.2 833.2,677.9 833,680" class="ti"/>
<path d="M815,670C818.8,672.5 830.8,680 837.5,685C844.2,690 850,693.8 855,700C860,706.2 864.5,715.8 867.5,722.5C870.5,729.2 872.1,737.1 873,740" class="to"/><path d="M815,670C818.8,672.5 830.8,680 837.5,685C844.2,690 850,693.8 855,700C860,706.2 864.5,715.8 867.5,722.5C870.5,729.2 872.1,737.1 873,740" class="ti"/>
<path d="M812.5,710C815.8,714.2 825.4,728.8 832.5,735C839.6,741.2 848.4,744.8 855,747.5C861.6,750.2 869.2,750.4 872,751" class="to"/><path d="M812.5,710C815.8,714.2 825.4,728.8 832.5,735C839.6,741.2 848.4,744.8 855,747.5C861.6,750.2 869.2,750.4 872,751" class="ti"/>
<path d="M831,742C832.2,741.3 834.5,738.8 838,738C841.5,737.2 849.7,737.2 852,737" class="to"/><path d="M831,742C832.2,741.3 834.5,738.8 838,738C841.5,737.2 849.7,737.2 852,737" class="ti"/>
<path d="M925,710C926.7,712.1 931.7,718.3 935,722.5C938.3,726.7 941.7,730.8 945,735C948.3,739.2 950.8,744.6 955,747.5C959.2,750.4 965.2,751.9 970,752.5C974.8,753.1 981.7,751.2 984,751" class="to"/><path d="M925,710C926.7,712.1 931.7,718.3 935,722.5C938.3,726.7 941.7,730.8 945,735C948.3,739.2 950.8,744.6 955,747.5C959.2,750.4 965.2,751.9 970,752.5C974.8,753.1 981.7,751.2 984,751" class="ti"/>
<path d="M920,742.5C921.3,741.4 925.3,738.2 928,736C930.7,733.8 934.7,730.2 936,729" class="to"/><path d="M920,742.5C921.3,741.4 925.3,738.2 928,736C930.7,733.8 934.7,730.2 936,729" class="ti"/>
<path d="M600,789C603.3,788.7 612.5,787.7 620,787C627.5,786.3 637.5,786.2 645,785C652.5,783.8 658.3,781.7 665,780C671.7,778.3 679.2,777.1 685,775C690.8,772.9 695,769.5 700,767.5C705,765.5 711,763.6 715,763C719,762.4 722.5,763.8 724,764" class="to"/><path d="M600,789C603.3,788.7 612.5,787.7 620,787C627.5,786.3 637.5,786.2 645,785C652.5,783.8 658.3,781.7 665,780C671.7,778.3 679.2,777.1 685,775C690.8,772.9 695,769.5 700,767.5C705,765.5 711,763.6 715,763C719,762.4 722.5,763.8 724,764" class="ti"/>
<path d="M733,762C735,761.2 740.9,758.6 745,757C749.1,755.4 753.5,753.2 757.5,752.5C761.5,751.8 765.6,751.2 769,753C772.4,754.8 775.2,758.9 778,763.5C780.8,768.1 784.4,774.5 786,780.5C787.6,786.5 788.8,793.8 787.5,799.5C786.2,805.2 780.3,809.8 778,815C775.7,820.2 774.3,825.8 773.5,830.5C772.7,835.2 773.4,839.8 773,843C772.6,846.2 771.3,848.8 771,850" class="to"/><path d="M733,762C735,761.2 740.9,758.6 745,757C749.1,755.4 753.5,753.2 757.5,752.5C761.5,751.8 765.6,751.2 769,753C772.4,754.8 775.2,758.9 778,763.5C780.8,768.1 784.4,774.5 786,780.5C787.6,786.5 788.8,793.8 787.5,799.5C786.2,805.2 780.3,809.8 778,815C775.7,820.2 774.3,825.8 773.5,830.5C772.7,835.2 773.4,839.8 773,843C772.6,846.2 771.3,848.8 771,850" class="ti"/>
<path d="M601,801C604.5,800.3 614.7,798.4 622,797C629.3,795.6 637.4,794.1 645,792.5C652.6,790.9 662.5,787.8 667.5,787.5C672.5,787.2 675,787.7 675,791C675,794.3 669.2,801.8 667.5,807.5C665.8,813.2 664.2,819.6 665,825C665.8,830.4 669.6,835.4 672.5,840C675.4,844.6 680.2,849.5 682.5,852.5C684.8,855.5 685.4,857.1 686,858" class="to"/><path d="M601,801C604.5,800.3 614.7,798.4 622,797C629.3,795.6 637.4,794.1 645,792.5C652.6,790.9 662.5,787.8 667.5,787.5C672.5,787.2 675,787.7 675,791C675,794.3 669.2,801.8 667.5,807.5C665.8,813.2 664.2,819.6 665,825C665.8,830.4 669.6,835.4 672.5,840C675.4,844.6 680.2,849.5 682.5,852.5C684.8,855.5 685.4,857.1 686,858" class="ti"/>
<path d="M746,853C744.2,852.9 739.3,853 735,852.5C730.7,852 725.4,852.5 720,850C714.6,847.5 707.5,842.1 702.5,837.5C697.5,832.9 692.9,827.5 690,822.5C687.1,817.5 685,812.1 685,807.5C685,802.9 686.7,798.8 690,795C693.3,791.2 700.8,787.5 705,785C709.2,782.5 713.3,780.8 715,780" class="to"/><path d="M746,853C744.2,852.9 739.3,853 735,852.5C730.7,852 725.4,852.5 720,850C714.6,847.5 707.5,842.1 702.5,837.5C697.5,832.9 692.9,827.5 690,822.5C687.1,817.5 685,812.1 685,807.5C685,802.9 686.7,798.8 690,795C693.3,791.2 700.8,787.5 705,785C709.2,782.5 713.3,780.8 715,780" class="ti"/>
<path d="M809,795C810.8,795.1 816.2,795 820,795.5C823.8,796 827.5,796.8 832,798C836.5,799.2 842.7,801.1 847,802.5C851.3,803.9 854.8,805.4 858,806.5C861.2,807.6 864.7,808.6 866,809" class="to"/><path d="M809,795C810.8,795.1 816.2,795 820,795.5C823.8,796 827.5,796.8 832,798C836.5,799.2 842.7,801.1 847,802.5C851.3,803.9 854.8,805.4 858,806.5C861.2,807.6 864.7,808.6 866,809" class="ti"/>
<path d="M873,810C875,809.2 881.7,807.3 885,805C888.3,802.7 891,799.3 893,796C895,792.7 896.3,786.8 897,785" class="to"/><path d="M873,810C875,809.2 881.7,807.3 885,805C888.3,802.7 891,799.3 893,796C895,792.7 896.3,786.8 897,785" class="ti"/>
<path d="M812.5,673.5C815.6,673.8 825.1,673.2 831,675.5C836.9,677.8 843,682.3 848,687C853,691.7 856.9,697.6 861,703.5C865.1,709.4 867.5,715.9 872.5,722.5C877.5,729.1 885.4,738 891,743C896.6,748 903.5,750.9 906,752.5" class="to"/><path d="M812.5,673.5C815.6,673.8 825.1,673.2 831,675.5C836.9,677.8 843,682.3 848,687C853,691.7 856.9,697.6 861,703.5C865.1,709.4 867.5,715.9 872.5,722.5C877.5,729.1 885.4,738 891,743C896.6,748 903.5,750.9 906,752.5" class="ti"/>
<path d="M793,671C792.2,672.1 790.7,674.5 788,677.5C785.3,680.5 779.5,684 777,689C774.5,694 772.4,701.3 773,707.5C773.6,713.7 776.4,721.3 780.5,726C784.6,730.7 790,733.9 797.5,735.5C805,737.1 817.4,735.8 825.5,735.5C833.6,735.2 840.1,735.7 846,733.5C851.9,731.3 857.2,725.6 861,722.5C864.8,719.4 867.7,716.2 869,715" class="to"/><path d="M793,671C792.2,672.1 790.7,674.5 788,677.5C785.3,680.5 779.5,684 777,689C774.5,694 772.4,701.3 773,707.5C773.6,713.7 776.4,721.3 780.5,726C784.6,730.7 790,733.9 797.5,735.5C805,737.1 817.4,735.8 825.5,735.5C833.6,735.2 840.1,735.7 846,733.5C851.9,731.3 857.2,725.6 861,722.5C864.8,719.4 867.7,716.2 869,715" class="ti"/>
<path d="M756,702C759.8,703.2 770.5,707.5 779,709C787.5,710.5 799.8,708.8 807,711C814.2,713.2 817.3,718.1 822,722.5C826.7,726.9 830.7,733.4 835,737.5C839.3,741.6 843,744.5 848,747C853,749.5 860.7,751.3 865,752.5C869.3,753.7 872.5,753.8 874,754" class="to"/><path d="M756,702C759.8,703.2 770.5,707.5 779,709C787.5,710.5 799.8,708.8 807,711C814.2,713.2 817.3,718.1 822,722.5C826.7,726.9 830.7,733.4 835,737.5C839.3,741.6 843,744.5 848,747C853,749.5 860.7,751.3 865,752.5C869.3,753.7 872.5,753.8 874,754" class="ti"/>
<path d="M842.5,739C843.8,741.8 847.8,749.7 850,755.5C852.2,761.3 853.4,768 856,774C858.6,780 861.8,786.8 865.5,791.5C869.2,796.2 874.3,798.8 878,802.5C881.7,806.2 885,810.2 887.5,813.5C890,816.8 892.1,820.6 893,822" class="to"/><path d="M842.5,739C843.8,741.8 847.8,749.7 850,755.5C852.2,761.3 853.4,768 856,774C858.6,780 861.8,786.8 865.5,791.5C869.2,796.2 874.3,798.8 878,802.5C881.7,806.2 885,810.2 887.5,813.5C890,816.8 892.1,820.6 893,822" class="ti"/>
<path d="M927,796C929.2,797 935.3,801.2 940,802C944.7,802.8 950,803 955,801C960,799 966.2,794 970,790C973.8,786 975.8,781.2 977.5,777C979.2,772.8 979.6,767 980,765" class="to"/><path d="M927,796C929.2,797 935.3,801.2 940,802C944.7,802.8 950,803 955,801C960,799 966.2,794 970,790C973.8,786 975.8,781.2 977.5,777C979.2,772.8 979.6,767 980,765" class="ti"/>
<path d="M618,700C619.7,702.7 624,711.5 628,716C632,720.5 636,723.7 642,727C648,730.3 655.7,734.8 664,736C672.3,737.2 683.5,735.8 692,734C700.5,732.2 708.7,728.3 715,725C721.3,721.7 725.8,718.2 730,714C734.2,709.8 738.3,702.3 740,700" class="to"/><path d="M618,700C619.7,702.7 624,711.5 628,716C632,720.5 636,723.7 642,727C648,730.3 655.7,734.8 664,736C672.3,737.2 683.5,735.8 692,734C700.5,732.2 708.7,728.3 715,725C721.3,721.7 725.8,718.2 730,714C734.2,709.8 738.3,702.3 740,700" class="ti"/>
<path d="M612,712C614.2,714.7 620,723.7 625,728C630,732.3 635.5,735 642,738C648.5,741 656,744.8 664,746C672,747.2 682,746.3 690,745C698,743.7 706.3,740.2 712,738C717.7,735.8 722,733 724,732" class="to"/><path d="M612,712C614.2,714.7 620,723.7 625,728C630,732.3 635.5,735 642,738C648.5,741 656,744.8 664,746C672,747.2 682,746.3 690,745C698,743.7 706.3,740.2 712,738C717.7,735.8 722,733 724,732" class="ti"/>
<path d="M646,757C647.5,755.4 651,750 655,747.5C659,745 664.2,743.6 670,742C675.8,740.4 686.7,738.7 690,738" class="to"/><path d="M646,757C647.5,755.4 651,750 655,747.5C659,745 664.2,743.6 670,742C675.8,740.4 686.7,738.7 690,738" class="ti"/>
<path d="M735.5,768C738.3,768.3 746.6,769.7 752.5,770C758.4,770.3 767.9,770 771,770" class="to"/><path d="M735.5,768C738.3,768.3 746.6,769.7 752.5,770C758.4,770.3 767.9,770 771,770" class="ti"/>
<path d="M758,684C761.2,681.8 770.8,673.7 777,670.5C783.2,667.3 789.7,666.8 795.5,665C801.3,663.2 809.2,660.8 812,660" class="to"/><path d="M758,684C761.2,681.8 770.8,673.7 777,670.5C783.2,667.3 789.7,666.8 795.5,665C801.3,663.2 809.2,660.8 812,660" class="ti"/>
<path d="M918.4,748.7C921.3,751.3 929.3,760.5 935.6,764.2C941.9,767.9 949.9,770.7 956.2,771C962.5,771.3 970.5,766.8 973.4,766" class="to"/><path d="M918.4,748.7C921.3,751.3 929.3,760.5 935.6,764.2C941.9,767.9 949.9,770.7 956.2,771C962.5,771.3 970.5,766.8 973.4,766" class="ti"/>
<path d="M625,607C626.3,611.2 630.1,624.2 633,632C635.9,639.8 639.3,647 642.5,653.7C645.7,660.5 649.1,666.8 652,672.5C654.9,678.2 658.4,685.4 659.7,688" class="to"/><path d="M625,607C626.3,611.2 630.1,624.2 633,632C635.9,639.8 639.3,647 642.5,653.7C645.7,660.5 649.1,666.8 652,672.5C654.9,678.2 658.4,685.4 659.7,688" class="ti"/>
<path d="M622,655C623,657.8 626.4,667 628,672C629.6,677 631.2,680.3 631.5,685C631.8,689.7 630.9,695.5 630,700C629.1,704.5 626.7,710 626,712" class="to"/><path d="M622,655C623,657.8 626.4,667 628,672C629.6,677 631.2,680.3 631.5,685C631.8,689.7 630.9,695.5 630,700C629.1,704.5 626.7,710 626,712" class="ti"/>
<g><path d="M661.1,496L659,500.5L659,507.5L660.9,519.5L662.5,532.5L663.1,547.5L663.4,563.5L663.6,576.5L662.7,580.5L663.8,584.5L677.2,584.5L678.3,580.5L677.4,576.5L677.6,563.5L677.9,547.5L678.5,532.5L680.1,519.5L682,507.5L682,500.5L679.9,496Z" fill="url(#pa)"/>
<path d="M663.8,584.5L664.2,611.5L664.5,629.5L663.3,633.5L664.6,637.5L664.7,657.5L663.6,666.5L664.5,675.5L665.5,687.5L667.2,698.5L668.7,703.5L669.9,705.5L671.1,705.5L672.3,703.5L673.8,698.5L675.5,687.5L676.5,675.5L677.4,666.5L676.3,657.5L676.4,637.5L677.7,633.5L676.5,629.5L676.8,611.5L677.2,584.5Z" fill="url(#pb)"/>
<path d="M662.2,497L660.6,500.5L660.6,507.5L662.5,519.5L664.1,532.5L664.7,547.5L665,563.5L665.2,576.5L664.3,580.5L665.4,584.5L665.4,586.5L675.6,586.5L675.6,584.5L676.7,580.5L675.8,576.5L676,563.5L676.3,547.5L676.9,532.5L678.5,519.5L680.4,507.5L680.4,500.5L678.8,497Z" class="bk"/>
<path d="M664.7,584.5L665.1,611.5L665.4,629.5L664.2,633.5L665.5,637.5L665.6,657.5L664.5,666.5L665.4,675.5L666.4,687.5L668.1,698.5L669.6,703.5L671.4,703.5L672.9,698.5L674.6,687.5L675.6,675.5L676.5,666.5L675.4,657.5L675.5,637.5L676.8,633.5L675.6,629.5L675.9,611.5L676.3,584.5Z" class="bk" style="stroke-width:2.8"/>
<path d="M661.1,496L659,500.5L659,507.5L660.9,519.5L662.5,532.5L663.1,547.5L663.4,563.5L663.6,576.5L662.7,580.5L663.8,584.5L664.2,611.5L664.5,629.5L663.3,633.5L664.6,637.5L664.7,657.5L663.6,666.5L664.5,675.5L665.5,687.5L667.2,698.5L668.7,703.5L669.9,705.5L671.1,705.5L672.3,703.5L673.8,698.5L675.5,687.5L676.5,675.5L677.4,666.5L676.3,657.5L676.4,637.5L677.7,633.5L676.5,629.5L676.8,611.5L677.2,584.5L678.3,580.5L677.4,576.5L677.6,563.5L677.9,547.5L678.5,532.5L680.1,519.5L682,507.5L682,500.5L679.9,496Z" class="bd"/>
<path d="M664.1,626.5 l-4.6,5.5 l5.6,0.8z M676.9,626.5 l4.6,5.5 l-5.6,0.8z" fill="#000"/>
<path d="M663.6,572.5 l-3.6,5.5 l4.6,0.8z M677.4,572.5 l3.6,5.5 l-4.6,0.8z" fill="#000"/>
<path d="M664,663.5 l-3.2,5.5 l4.2,0.8z M677,663.5 l3.2,5.5 l-4.2,0.8z" fill="#000"/>
<path d="M653.5,497.4 C653.5,493.4 662.5,491.1 670.5,491.1 C678.5,491.1 687.5,493.4 687.5,497.4 C687.5,499.7 684,499.3 682,497.7 C678,495.8 663,495.8 659,497.7 C657,499.3 653.5,499.7 653.5,497.4Z" class="cp"/>
<path d="M670.5,484.5 v7" class="st"/>
<rect x="664.8" y="473.5" width="11.4" height="11.7" class="sq"/></g>
<g><path d="M672.6,563L670.5,567.5L670.5,574.5L672.4,586.5L674,599.5L674.6,614.5L674.9,630.5L675.1,643.5L674.2,647.5L675.3,651.5L688.7,651.5L689.8,647.5L688.9,643.5L689.1,630.5L689.4,614.5L690,599.5L691.6,586.5L693.5,574.5L693.5,567.5L691.4,563Z" fill="url(#pa)"/>
<path d="M675.3,651.5L675.7,678.5L676,696.5L674.8,700.5L676.1,704.5L676.2,724.5L675.1,733.5L676,742.5L677,754.5L678.7,765.5L680.2,770.5L681.4,772.5L682.6,772.5L683.8,770.5L685.3,765.5L687,754.5L688,742.5L688.9,733.5L687.8,724.5L687.9,704.5L689.2,700.5L688,696.5L688.3,678.5L688.7,651.5Z" fill="url(#pb)"/>
<path d="M673.7,564L672.1,567.5L672.1,574.5L674,586.5L675.6,599.5L676.2,614.5L676.5,630.5L676.7,643.5L675.8,647.5L676.9,651.5L676.9,653.5L687.1,653.5L687.1,651.5L688.2,647.5L687.3,643.5L687.5,630.5L687.8,614.5L688.4,599.5L690,586.5L691.9,574.5L691.9,567.5L690.3,564Z" class="bk"/>
<path d="M676.2,651.5L676.6,678.5L676.9,696.5L675.7,700.5L677,704.5L677.1,724.5L676,733.5L676.9,742.5L677.9,754.5L679.6,765.5L681.1,770.5L682.9,770.5L684.4,765.5L686.1,754.5L687.1,742.5L688,733.5L686.9,724.5L687,704.5L688.3,700.5L687.1,696.5L687.4,678.5L687.8,651.5Z" class="bk" style="stroke-width:2.8"/>
<path d="M672.6,563L670.5,567.5L670.5,574.5L672.4,586.5L674,599.5L674.6,614.5L674.9,630.5L675.1,643.5L674.2,647.5L675.3,651.5L675.7,678.5L676,696.5L674.8,700.5L676.1,704.5L676.2,724.5L675.1,733.5L676,742.5L677,754.5L678.7,765.5L680.2,770.5L681.4,772.5L682.6,772.5L683.8,770.5L685.3,765.5L687,754.5L688,742.5L688.9,733.5L687.8,724.5L687.9,704.5L689.2,700.5L688,696.5L688.3,678.5L688.7,651.5L689.8,647.5L688.9,643.5L689.1,630.5L689.4,614.5L690,599.5L691.6,586.5L693.5,574.5L693.5,567.5L691.4,563Z" class="bd"/>
<path d="M675.6,693.5 l-4.6,5.5 l5.6,0.8z M688.4,693.5 l4.6,5.5 l-5.6,0.8z" fill="#000"/>
<path d="M675.1,639.5 l-3.6,5.5 l4.6,0.8z M688.9,639.5 l3.6,5.5 l-4.6,0.8z" fill="#000"/>
<path d="M675.5,730.5 l-3.2,5.5 l4.2,0.8z M688.5,730.5 l3.2,5.5 l-4.2,0.8z" fill="#000"/>
<path d="M665,564.4 C665,560.4 674,558.1 682,558.1 C690,558.1 699,560.4 699,564.4 C699,566.7 695.5,566.3 693.5,564.7 C689.5,562.8 674.5,562.8 670.5,564.7 C668.5,566.3 665,566.7 665,564.4Z" class="cp"/>
<path d="M682,551.5 v7" class="st"/>
<rect x="678" y="543.5" width="8" height="8.3" class="sq"/></g>
<g><path d="M571.6,522.5L569.5,527L569.5,534L571.4,546L573,559L573.6,574L573.9,590L574.1,603L573.2,607L574.3,611L587.7,611L588.8,607L587.9,603L588.1,590L588.4,574L589,559L590.6,546L592.5,534L592.5,527L590.4,522.5Z" fill="url(#pa)"/>
<path d="M574.3,611L574.7,638L575,656L573.8,660L575.1,664L575.2,684L574.1,693L575,702L576,714L577.7,725L579.2,730L580.4,732L581.6,732L582.8,730L584.3,725L586,714L587,702L587.9,693L586.8,684L586.9,664L588.2,660L587,656L587.3,638L587.7,611Z" fill="url(#pb)"/>
<path d="M572.7,523.5L571.1,527L571.1,534L573,546L574.6,559L575.2,574L575.5,590L575.7,603L574.8,607L575.9,611L575.9,613L586.1,613L586.1,611L587.2,607L586.3,603L586.5,590L586.8,574L587.4,559L589,546L590.9,534L590.9,527L589.3,523.5Z" class="bk"/>
<path d="M575.2,611L575.6,638L575.9,656L574.7,660L576,664L576.1,684L575,693L575.9,702L576.9,714L578.6,725L580.1,730L581.9,730L583.4,725L585.1,714L586.1,702L587,693L585.9,684L586,664L587.3,660L586.1,656L586.4,638L586.8,611Z" class="bk" style="stroke-width:2.8"/>
<path d="M571.6,522.5L569.5,527L569.5,534L571.4,546L573,559L573.6,574L573.9,590L574.1,603L573.2,607L574.3,611L574.7,638L575,656L573.8,660L575.1,664L575.2,684L574.1,693L575,702L576,714L577.7,725L579.2,730L580.4,732L581.6,732L582.8,730L584.3,725L586,714L587,702L587.9,693L586.8,684L586.9,664L588.2,660L587,656L587.3,638L587.7,611L588.8,607L587.9,603L588.1,590L588.4,574L589,559L590.6,546L592.5,534L592.5,527L590.4,522.5Z" class="bd"/>
<path d="M574.6,653 l-4.6,5.5 l5.6,0.8z M587.4,653 l4.6,5.5 l-5.6,0.8z" fill="#000"/>
<path d="M574.1,599 l-3.6,5.5 l4.6,0.8z M587.9,599 l3.6,5.5 l-4.6,0.8z" fill="#000"/>
<path d="M574.5,690 l-3.2,5.5 l4.2,0.8z M587.5,690 l3.2,5.5 l-4.2,0.8z" fill="#000"/>
<path d="M564,523.9 C564,519.9 573,517.6 581,517.6 C589,517.6 598,519.9 598,523.9 C598,526.2 594.5,525.8 592.5,524.2 C588.5,522.3 573.5,522.3 569.5,524.2 C567.5,525.8 564,526.2 564,523.9Z" class="cp"/>
<path d="M581,511 v7" class="st"/>
<rect x="575.5" y="499.5" width="11" height="12" class="sq" transform="rotate(-28 581 505)"/></g>
<g><path d="M448.1,526L446,530.5L446,537.5L447.9,549.5L449.5,562.5L450.1,577.5L450.4,593.5L450.6,606.5L449.7,610.5L450.8,614.5L464.2,614.5L465.3,610.5L464.4,606.5L464.6,593.5L464.9,577.5L465.5,562.5L467.1,549.5L469,537.5L469,530.5L466.9,526Z" fill="url(#pa)"/>
<path d="M450.8,614.5L451.2,641.5L451.5,659.5L450.3,663.5L451.6,667.5L451.7,687.5L450.6,696.5L451.5,705.5L452.5,717.5L454.2,728.5L455.7,733.5L456.9,735.5L458.1,735.5L459.3,733.5L460.8,728.5L462.5,717.5L463.5,705.5L464.4,696.5L463.3,687.5L463.4,667.5L464.7,663.5L463.5,659.5L463.8,641.5L464.2,614.5Z" fill="url(#pb)"/>
<path d="M449.2,527L447.6,530.5L447.6,537.5L449.5,549.5L451.1,562.5L451.7,577.5L452,593.5L452.2,606.5L451.3,610.5L452.4,614.5L452.4,616.5L462.6,616.5L462.6,614.5L463.7,610.5L462.8,606.5L463,593.5L463.3,577.5L463.9,562.5L465.5,549.5L467.4,537.5L467.4,530.5L465.8,527Z" class="bk"/>
<path d="M451.7,614.5L452.1,641.5L452.4,659.5L451.2,663.5L452.5,667.5L452.6,687.5L451.5,696.5L452.4,705.5L453.4,717.5L455.1,728.5L456.6,733.5L458.4,733.5L459.9,728.5L461.6,717.5L462.6,705.5L463.5,696.5L462.4,687.5L462.5,667.5L463.8,663.5L462.6,659.5L462.9,641.5L463.3,614.5Z" class="bk" style="stroke-width:2.8"/>
<path d="M448.1,526L446,530.5L446,537.5L447.9,549.5L449.5,562.5L450.1,577.5L450.4,593.5L450.6,606.5L449.7,610.5L450.8,614.5L451.2,641.5L451.5,659.5L450.3,663.5L451.6,667.5L451.7,687.5L450.6,696.5L451.5,705.5L452.5,717.5L454.2,728.5L455.7,733.5L456.9,735.5L458.1,735.5L459.3,733.5L460.8,728.5L462.5,717.5L463.5,705.5L464.4,696.5L463.3,687.5L463.4,667.5L464.7,663.5L463.5,659.5L463.8,641.5L464.2,614.5L465.3,610.5L464.4,606.5L464.6,593.5L464.9,577.5L465.5,562.5L467.1,549.5L469,537.5L469,530.5L466.9,526Z" class="bd"/>
<path d="M451.1,656.5 l-4.6,5.5 l5.6,0.8z M463.9,656.5 l4.6,5.5 l-5.6,0.8z" fill="#000"/>
<path d="M450.6,602.5 l-3.6,5.5 l4.6,0.8z M464.4,602.5 l3.6,5.5 l-4.6,0.8z" fill="#000"/>
<path d="M451,693.5 l-3.2,5.5 l4.2,0.8z M464,693.5 l3.2,5.5 l-4.2,0.8z" fill="#000"/>
<path d="M440.5,527.4 C440.5,523.4 449.5,521.1 457.5,521.1 C465.5,521.1 474.5,523.4 474.5,527.4 C474.5,529.7 471,529.3 469,527.7 C465,525.8 450,525.8 446,527.7 C444,529.3 440.5,529.7 440.5,527.4Z" class="cp"/>
<path d="M457.5,514.5 v7" class="st"/>
<rect x="451.8" y="503.5" width="11.4" height="11.7" class="sq"/></g>
<g><path d="M958.6,538L956.5,542.5L956.5,549.5L958.4,561.5L960,574.5L960.6,589.5L960.9,605.5L961.1,618.5L960.2,622.5L961.3,626.5L974.7,626.5L975.8,622.5L974.9,618.5L975.1,605.5L975.4,589.5L976,574.5L977.6,561.5L979.5,549.5L979.5,542.5L977.4,538Z" fill="url(#pa)"/>
<path d="M961.3,626.5L961.7,653.5L962,671.5L960.8,675.5L962.1,679.5L962.2,699.5L961.1,708.5L962,717.5L963,729.5L964.7,740.5L966.2,745.5L967.4,747.5L968.6,747.5L969.8,745.5L971.3,740.5L973,729.5L974,717.5L974.9,708.5L973.8,699.5L973.9,679.5L975.2,675.5L974,671.5L974.3,653.5L974.7,626.5Z" fill="url(#pb)"/>
<path d="M959.7,539L958.1,542.5L958.1,549.5L960,561.5L961.6,574.5L962.2,589.5L962.5,605.5L962.7,618.5L961.8,622.5L962.9,626.5L962.9,628.5L973.1,628.5L973.1,626.5L974.2,622.5L973.3,618.5L973.5,605.5L973.8,589.5L974.4,574.5L976,561.5L977.9,549.5L977.9,542.5L976.3,539Z" class="bk"/>
<path d="M962.2,626.5L962.6,653.5L962.9,671.5L961.7,675.5L963,679.5L963.1,699.5L962,708.5L962.9,717.5L963.9,729.5L965.6,740.5L967.1,745.5L968.9,745.5L970.4,740.5L972.1,729.5L973.1,717.5L974,708.5L972.9,699.5L973,679.5L974.3,675.5L973.1,671.5L973.4,653.5L973.8,626.5Z" class="bk" style="stroke-width:2.8"/>
<path d="M958.6,538L956.5,542.5L956.5,549.5L958.4,561.5L960,574.5L960.6,589.5L960.9,605.5L961.1,618.5L960.2,622.5L961.3,626.5L961.7,653.5L962,671.5L960.8,675.5L962.1,679.5L962.2,699.5L961.1,708.5L962,717.5L963,729.5L964.7,740.5L966.2,745.5L967.4,747.5L968.6,747.5L969.8,745.5L971.3,740.5L973,729.5L974,717.5L974.9,708.5L973.8,699.5L973.9,679.5L975.2,675.5L974,671.5L974.3,653.5L974.7,626.5L975.8,622.5L974.9,618.5L975.1,605.5L975.4,589.5L976,574.5L977.6,561.5L979.5,549.5L979.5,542.5L977.4,538Z" class="bd"/>
<path d="M961.6,668.5 l-4.6,5.5 l5.6,0.8z M974.4,668.5 l4.6,5.5 l-5.6,0.8z" fill="#000"/>
<path d="M961.1,614.5 l-3.6,5.5 l4.6,0.8z M974.9,614.5 l3.6,5.5 l-4.6,0.8z" fill="#000"/>
<path d="M961.5,705.5 l-3.2,5.5 l4.2,0.8z M974.5,705.5 l3.2,5.5 l-4.2,0.8z" fill="#000"/>
<path d="M951,539.4 C951,535.4 960,533.1 968,533.1 C976,533.1 985,535.4 985,539.4 C985,541.7 981.5,541.3 979.5,539.7 C975.5,537.8 960.5,537.8 956.5,539.7 C954.5,541.3 951,541.7 951,539.4Z" class="cp"/>
<path d="M968,526.5 v7" class="st"/>
<rect x="962.3" y="515.5" width="11.4" height="11.7" class="sq"/></g>
<g><path d="M701.4,539.5L699.2,544L699.2,551L701.1,563L702.8,576L703.4,591L703.6,607L703.9,620L703,624L704,628L717.5,628L718.5,624L717.6,620L717.9,607L718.1,591L718.8,576L720.4,563L722.2,551L722.2,544L720.1,539.5Z" fill="url(#pa)"/>
<path d="M704,628L704.5,655L704.8,673L703.5,677L704.9,681L705,701L703.9,710L704.8,719L705.8,731L707.5,742L709,747L710.1,749L711.4,749L712.5,747L714,742L715.8,731L716.8,719L717.6,710L716.5,701L716.6,681L718,677L716.8,673L717,655L717.5,628Z" fill="url(#pb)"/>
<path d="M702.5,540.5L700.9,544L700.9,551L702.8,563L704.4,576L705,591L705.2,607L705.5,620L704.5,624L705.6,628L705.7,630L715.8,630L715.9,628L717,624L716,620L716.2,607L716.5,591L717.1,576L718.8,563L720.6,551L720.6,544L719,540.5Z" class="bk"/>
<path d="M705,628L705.4,655L705.6,673L704.5,677L705.8,681L705.9,701L704.8,710L705.6,719L706.6,731L708.4,742L709.9,747L711.6,747L713.1,742L714.9,731L715.9,719L716.8,710L715.6,701L715.8,681L717,677L715.9,673L716.1,655L716.5,628Z" class="bk" style="stroke-width:2.8"/>
<path d="M701.4,539.5L699.2,544L699.2,551L701.1,563L702.8,576L703.4,591L703.6,607L703.9,620L703,624L704,628L704.5,655L704.8,673L703.5,677L704.9,681L705,701L703.9,710L704.8,719L705.8,731L707.5,742L709,747L710.1,749L711.4,749L712.5,747L714,742L715.8,731L716.8,719L717.6,710L716.5,701L716.6,681L718,677L716.8,673L717,655L717.5,628L718.5,624L717.6,620L717.9,607L718.1,591L718.8,576L720.4,563L722.2,551L722.2,544L720.1,539.5Z" class="bd"/>
<path d="M704.4,670 l-4.6,5.5 l5.6,0.8z M717.1,670 l4.6,5.5 l-5.6,0.8z" fill="#000"/>
<path d="M703.8,616 l-3.6,5.5 l4.6,0.8z M717.7,616 l3.6,5.5 l-4.6,0.8z" fill="#000"/>
<path d="M704.2,707 l-3.2,5.5 l4.2,0.8z M717.2,707 l3.2,5.5 l-4.2,0.8z" fill="#000"/>
<path d="M693.8,540.9 C693.8,536.9 702.8,534.6 710.8,534.6 C718.8,534.6 727.8,536.9 727.8,540.9 C727.8,543.2 724.2,542.8 722.2,541.2 C718.2,539.3 703.2,539.3 699.2,541.2 C697.2,542.8 693.8,543.2 693.8,540.9Z" class="cp"/>
<path d="M710.8,528 v7" class="st"/>
<rect x="705" y="517" width="11.4" height="11.7" class="sq"/></g>
<g><path d="M540.6,563.5L538.5,568L538.5,575L540.4,587L542,600L542.6,615L542.9,631L543.1,644L542.2,648L543.3,652L556.7,652L557.8,648L556.9,644L557.1,631L557.4,615L558,600L559.6,587L561.5,575L561.5,568L559.4,563.5Z" fill="url(#pa)"/>
<path d="M543.3,652L543.7,679L544,697L542.8,701L544.1,705L544.2,725L543.1,734L544,743L545,755L546.7,766L548.2,771L549.4,773L550.6,773L551.8,771L553.3,766L555,755L556,743L556.9,734L555.8,725L555.9,705L557.2,701L556,697L556.3,679L556.7,652Z" fill="url(#pb)"/>
<path d="M541.7,564.5L540.1,568L540.1,575L542,587L543.6,600L544.2,615L544.5,631L544.7,644L543.8,648L544.9,652L544.9,654L555.1,654L555.1,652L556.2,648L555.3,644L555.5,631L555.8,615L556.4,600L558,587L559.9,575L559.9,568L558.3,564.5Z" class="bk"/>
<path d="M544.2,652L544.6,679L544.9,697L543.7,701L545,705L545.1,725L544,734L544.9,743L545.9,755L547.6,766L549.1,771L550.9,771L552.4,766L554.1,755L555.1,743L556,734L554.9,725L555,705L556.3,701L555.1,697L555.4,679L555.8,652Z" class="bk" style="stroke-width:2.8"/>
<path d="M540.6,563.5L538.5,568L538.5,575L540.4,587L542,600L542.6,615L542.9,631L543.1,644L542.2,648L543.3,652L543.7,679L544,697L542.8,701L544.1,705L544.2,725L543.1,734L544,743L545,755L546.7,766L548.2,771L549.4,773L550.6,773L551.8,771L553.3,766L555,755L556,743L556.9,734L555.8,725L555.9,705L557.2,701L556,697L556.3,679L556.7,652L557.8,648L556.9,644L557.1,631L557.4,615L558,600L559.6,587L561.5,575L561.5,568L559.4,563.5Z" class="bd"/>
<path d="M543.6,694 l-4.6,5.5 l5.6,0.8z M556.4,694 l4.6,5.5 l-5.6,0.8z" fill="#000"/>
<path d="M543.1,640 l-3.6,5.5 l4.6,0.8z M556.9,640 l3.6,5.5 l-4.6,0.8z" fill="#000"/>
<path d="M543.5,731 l-3.2,5.5 l4.2,0.8z M556.5,731 l3.2,5.5 l-4.2,0.8z" fill="#000"/>
<path d="M533,564.9 C533,560.9 542,558.6 550,558.6 C558,558.6 567,560.9 567,564.9 C567,567.2 563.5,566.8 561.5,565.2 C557.5,563.3 542.5,563.3 538.5,565.2 C536.5,566.8 533,567.2 533,564.9Z" class="cp"/>
<path d="M550,552 v7" class="st"/>
<rect x="544.3" y="541" width="11.4" height="11.7" class="sq"/></g>
<g><path d="M608.1,567L606,571.5L606,578.5L607.9,590.5L609.5,603.5L610.1,618.5L610.4,634.5L610.6,647.5L609.7,651.5L610.8,655.5L624.2,655.5L625.3,651.5L624.4,647.5L624.6,634.5L624.9,618.5L625.5,603.5L627.1,590.5L629,578.5L629,571.5L626.9,567Z" fill="url(#pa)"/>
<path d="M610.8,655.5L611.2,682.5L611.5,700.5L610.3,704.5L611.6,708.5L611.7,728.5L610.6,737.5L611.5,746.5L612.5,758.5L614.2,769.5L615.7,774.5L616.9,776.5L618.1,776.5L619.3,774.5L620.8,769.5L622.5,758.5L623.5,746.5L624.4,737.5L623.3,728.5L623.4,708.5L624.7,704.5L623.5,700.5L623.8,682.5L624.2,655.5Z" fill="url(#pb)"/>
<path d="M609.2,568L607.6,571.5L607.6,578.5L609.5,590.5L611.1,603.5L611.7,618.5L612,634.5L612.2,647.5L611.3,651.5L612.4,655.5L612.4,657.5L622.6,657.5L622.6,655.5L623.7,651.5L622.8,647.5L623,634.5L623.3,618.5L623.9,603.5L625.5,590.5L627.4,578.5L627.4,571.5L625.8,568Z" class="bk"/>
<path d="M611.7,655.5L612.1,682.5L612.4,700.5L611.2,704.5L612.5,708.5L612.6,728.5L611.5,737.5L612.4,746.5L613.4,758.5L615.1,769.5L616.6,774.5L618.4,774.5L619.9,769.5L621.6,758.5L622.6,746.5L623.5,737.5L622.4,728.5L622.5,708.5L623.8,704.5L622.6,700.5L622.9,682.5L623.3,655.5Z" class="bk" style="stroke-width:2.8"/>
<path d="M608.1,567L606,571.5L606,578.5L607.9,590.5L609.5,603.5L610.1,618.5L610.4,634.5L610.6,647.5L609.7,651.5L610.8,655.5L611.2,682.5L611.5,700.5L610.3,704.5L611.6,708.5L611.7,728.5L610.6,737.5L611.5,746.5L612.5,758.5L614.2,769.5L615.7,774.5L616.9,776.5L618.1,776.5L619.3,774.5L620.8,769.5L622.5,758.5L623.5,746.5L624.4,737.5L623.3,728.5L623.4,708.5L624.7,704.5L623.5,700.5L623.8,682.5L624.2,655.5L625.3,651.5L624.4,647.5L624.6,634.5L624.9,618.5L625.5,603.5L627.1,590.5L629,578.5L629,571.5L626.9,567Z" class="bd"/>
<path d="M611.1,697.5 l-4.6,5.5 l5.6,0.8z M623.9,697.5 l4.6,5.5 l-5.6,0.8z" fill="#000"/>
<path d="M610.6,643.5 l-3.6,5.5 l4.6,0.8z M624.4,643.5 l3.6,5.5 l-4.6,0.8z" fill="#000"/>
<path d="M611,734.5 l-3.2,5.5 l4.2,0.8z M624,734.5 l3.2,5.5 l-4.2,0.8z" fill="#000"/>
<path d="M600.5,568.4 C600.5,564.4 609.5,562.1 617.5,562.1 C625.5,562.1 634.5,564.4 634.5,568.4 C634.5,570.7 631,570.3 629,568.7 C625,566.8 610,566.8 606,568.7 C604,570.3 600.5,570.7 600.5,568.4Z" class="cp"/>
<path d="M617.5,555.5 v7" class="st"/>
<rect x="611.8" y="544.5" width="11.4" height="11.7" class="sq"/></g>
<g><path d="M738.6,577.5L736.5,582L736.5,589L738.4,601L740,614L740.6,629L740.9,645L741.1,658L740.2,662L741.3,666L754.7,666L755.8,662L754.9,658L755.1,645L755.4,629L756,614L757.6,601L759.5,589L759.5,582L757.4,577.5Z" fill="url(#pa)"/>
<path d="M741.3,666L741.7,693L742,711L740.8,715L742.1,719L742.2,739L741.1,748L742,757L743,769L744.7,780L746.2,785L747.4,787L748.6,787L749.8,785L751.3,780L753,769L754,757L754.9,748L753.8,739L753.9,719L755.2,715L754,711L754.3,693L754.7,666Z" fill="url(#pb)"/>
<path d="M739.7,578.5L738.1,582L738.1,589L740,601L741.6,614L742.2,629L742.5,645L742.7,658L741.8,662L742.9,666L742.9,668L753.1,668L753.1,666L754.2,662L753.3,658L753.5,645L753.8,629L754.4,614L756,601L757.9,589L757.9,582L756.3,578.5Z" class="bk"/>
<path d="M742.2,666L742.6,693L742.9,711L741.7,715L743,719L743.1,739L742,748L742.9,757L743.9,769L745.6,780L747.1,785L748.9,785L750.4,780L752.1,769L753.1,757L754,748L752.9,739L753,719L754.3,715L753.1,711L753.4,693L753.8,666Z" class="bk" style="stroke-width:2.8"/>
<path d="M738.6,577.5L736.5,582L736.5,589L738.4,601L740,614L740.6,629L740.9,645L741.1,658L740.2,662L741.3,666L741.7,693L742,711L740.8,715L742.1,719L742.2,739L741.1,748L742,757L743,769L744.7,780L746.2,785L747.4,787L748.6,787L749.8,785L751.3,780L753,769L754,757L754.9,748L753.8,739L753.9,719L755.2,715L754,711L754.3,693L754.7,666L755.8,662L754.9,658L755.1,645L755.4,629L756,614L757.6,601L759.5,589L759.5,582L757.4,577.5Z" class="bd"/>
<path d="M741.6,708 l-4.6,5.5 l5.6,0.8z M754.4,708 l4.6,5.5 l-5.6,0.8z" fill="#000"/>
<path d="M741.1,654 l-3.6,5.5 l4.6,0.8z M754.9,654 l3.6,5.5 l-4.6,0.8z" fill="#000"/>
<path d="M741.5,745 l-3.2,5.5 l4.2,0.8z M754.5,745 l3.2,5.5 l-4.2,0.8z" fill="#000"/>
<path d="M731,578.9 C731,574.9 740,572.6 748,572.6 C756,572.6 765,574.9 765,578.9 C765,581.2 761.5,580.8 759.5,579.2 C755.5,577.3 740.5,577.3 736.5,579.2 C734.5,580.8 731,581.2 731,578.9Z" class="cp"/>
<path d="M748,566 v7" class="st"/>
<rect x="742.3" y="555" width="11.4" height="11.7" class="sq"/></g>
<g><path d="M420.1,595L418,599.5L418,606.5L419.9,618.5L421.5,631.5L422.1,646.5L422.4,662.5L422.6,675.5L421.7,679.5L422.8,683.5L436.2,683.5L437.3,679.5L436.4,675.5L436.6,662.5L436.9,646.5L437.5,631.5L439.1,618.5L441,606.5L441,599.5L438.9,595Z" fill="url(#pa)"/>
<path d="M422.8,683.5L423.2,710.5L423.5,728.5L422.3,732.5L423.6,736.5L423.7,756.5L422.6,765.5L423.5,774.5L424.5,786.5L426.2,797.5L427.7,802.5L428.9,804.5L430.1,804.5L431.3,802.5L432.8,797.5L434.5,786.5L435.5,774.5L436.4,765.5L435.3,756.5L435.4,736.5L436.7,732.5L435.5,728.5L435.8,710.5L436.2,683.5Z" fill="url(#pb)"/>
<path d="M421.2,596L419.6,599.5L419.6,606.5L421.5,618.5L423.1,631.5L423.7,646.5L424,662.5L424.2,675.5L423.3,679.5L424.4,683.5L424.4,685.5L434.6,685.5L434.6,683.5L435.7,679.5L434.8,675.5L435,662.5L435.3,646.5L435.9,631.5L437.5,618.5L439.4,606.5L439.4,599.5L437.8,596Z" class="bk"/>
<path d="M423.7,683.5L424.1,710.5L424.4,728.5L423.2,732.5L424.5,736.5L424.6,756.5L423.5,765.5L424.4,774.5L425.4,786.5L427.1,797.5L428.6,802.5L430.4,802.5L431.9,797.5L433.6,786.5L434.6,774.5L435.5,765.5L434.4,756.5L434.5,736.5L435.8,732.5L434.6,728.5L434.9,710.5L435.3,683.5Z" class="bk" style="stroke-width:2.8"/>
<path d="M420.1,595L418,599.5L418,606.5L419.9,618.5L421.5,631.5L422.1,646.5L422.4,662.5L422.6,675.5L421.7,679.5L422.8,683.5L423.2,710.5L423.5,728.5L422.3,732.5L423.6,736.5L423.7,756.5L422.6,765.5L423.5,774.5L424.5,786.5L426.2,797.5L427.7,802.5L428.9,804.5L430.1,804.5L431.3,802.5L432.8,797.5L434.5,786.5L435.5,774.5L436.4,765.5L435.3,756.5L435.4,736.5L436.7,732.5L435.5,728.5L435.8,710.5L436.2,683.5L437.3,679.5L436.4,675.5L436.6,662.5L436.9,646.5L437.5,631.5L439.1,618.5L441,606.5L441,599.5L438.9,595Z" class="bd"/>
<path d="M423.1,725.5 l-4.6,5.5 l5.6,0.8z M435.9,725.5 l4.6,5.5 l-5.6,0.8z" fill="#000"/>
<path d="M422.6,671.5 l-3.6,5.5 l4.6,0.8z M436.4,671.5 l3.6,5.5 l-4.6,0.8z" fill="#000"/>
<path d="M423,762.5 l-3.2,5.5 l4.2,0.8z M436,762.5 l3.2,5.5 l-4.2,0.8z" fill="#000"/>
<path d="M412.5,596.4 C412.5,592.4 421.5,590.1 429.5,590.1 C437.5,590.1 446.5,592.4 446.5,596.4 C446.5,598.7 443,598.3 441,596.7 C437,594.8 422,594.8 418,596.7 C416,598.3 412.5,598.7 412.5,596.4Z" class="cp"/>
<path d="M429.5,583.5 v7" class="st"/>
<rect x="423.8" y="572.5" width="11.4" height="11.7" class="sq"/></g>
<g><path d="M869.6,596L867.5,600.5L867.5,607.5L869.4,619.5L871,632.5L871.6,647.5L871.9,663.5L872.1,676.5L871.2,680.5L872.3,684.5L885.7,684.5L886.8,680.5L885.9,676.5L886.1,663.5L886.4,647.5L887,632.5L888.6,619.5L890.5,607.5L890.5,600.5L888.4,596Z" fill="url(#pa)"/>
<path d="M872.3,684.5L872.7,711.5L873,729.5L871.8,733.5L873.1,737.5L873.2,757.5L872.1,766.5L873,775.5L874,787.5L875.7,798.5L877.2,803.5L878.4,805.5L879.6,805.5L880.8,803.5L882.3,798.5L884,787.5L885,775.5L885.9,766.5L884.8,757.5L884.9,737.5L886.2,733.5L885,729.5L885.3,711.5L885.7,684.5Z" fill="url(#pb)"/>
<path d="M870.7,597L869.1,600.5L869.1,607.5L871,619.5L872.6,632.5L873.2,647.5L873.5,663.5L873.7,676.5L872.8,680.5L873.9,684.5L873.9,686.5L884.1,686.5L884.1,684.5L885.2,680.5L884.3,676.5L884.5,663.5L884.8,647.5L885.4,632.5L887,619.5L888.9,607.5L888.9,600.5L887.3,597Z" class="bk"/>
<path d="M873.2,684.5L873.6,711.5L873.9,729.5L872.7,733.5L874,737.5L874.1,757.5L873,766.5L873.9,775.5L874.9,787.5L876.6,798.5L878.1,803.5L879.9,803.5L881.4,798.5L883.1,787.5L884.1,775.5L885,766.5L883.9,757.5L884,737.5L885.3,733.5L884.1,729.5L884.4,711.5L884.8,684.5Z" class="bk" style="stroke-width:2.8"/>
<path d="M869.6,596L867.5,600.5L867.5,607.5L869.4,619.5L871,632.5L871.6,647.5L871.9,663.5L872.1,676.5L871.2,680.5L872.3,684.5L872.7,711.5L873,729.5L871.8,733.5L873.1,737.5L873.2,757.5L872.1,766.5L873,775.5L874,787.5L875.7,798.5L877.2,803.5L878.4,805.5L879.6,805.5L880.8,803.5L882.3,798.5L884,787.5L885,775.5L885.9,766.5L884.8,757.5L884.9,737.5L886.2,733.5L885,729.5L885.3,711.5L885.7,684.5L886.8,680.5L885.9,676.5L886.1,663.5L886.4,647.5L887,632.5L888.6,619.5L890.5,607.5L890.5,600.5L888.4,596Z" class="bd"/>
<path d="M872.6,726.5 l-4.6,5.5 l5.6,0.8z M885.4,726.5 l4.6,5.5 l-5.6,0.8z" fill="#000"/>
<path d="M872.1,672.5 l-3.6,5.5 l4.6,0.8z M885.9,672.5 l3.6,5.5 l-4.6,0.8z" fill="#000"/>
<path d="M872.5,763.5 l-3.2,5.5 l4.2,0.8z M885.5,763.5 l3.2,5.5 l-4.2,0.8z" fill="#000"/>
<path d="M862,597.4 C862,593.4 871,591.1 879,591.1 C887,591.1 896,593.4 896,597.4 C896,599.7 892.5,599.3 890.5,597.7 C886.5,595.8 871.5,595.8 867.5,597.7 C865.5,599.3 862,599.7 862,597.4Z" class="cp"/>
<path d="M879,584.5 v7" class="st"/>
<rect x="873.3" y="573.5" width="11.4" height="11.7" class="sq"/></g>
<g><path d="M903.1,599.5L901,604L901,611L902.9,623L904.5,636L905.1,651L905.4,667L905.6,680L904.7,684L905.8,688L919.2,688L920.3,684L919.4,680L919.6,667L919.9,651L920.5,636L922.1,623L924,611L924,604L921.9,599.5Z" fill="url(#pa)"/>
<path d="M905.8,688L906.2,715L906.5,733L905.3,737L906.6,741L906.7,761L905.6,770L906.5,779L907.5,791L909.2,802L910.7,807L911.9,809L913.1,809L914.3,807L915.8,802L917.5,791L918.5,779L919.4,770L918.3,761L918.4,741L919.7,737L918.5,733L918.8,715L919.2,688Z" fill="url(#pb)"/>
<path d="M904.2,600.5L902.6,604L902.6,611L904.5,623L906.1,636L906.7,651L907,667L907.2,680L906.3,684L907.4,688L907.4,690L917.6,690L917.6,688L918.7,684L917.8,680L918,667L918.3,651L918.9,636L920.5,623L922.4,611L922.4,604L920.8,600.5Z" class="bk"/>
<path d="M906.7,688L907.1,715L907.4,733L906.2,737L907.5,741L907.6,761L906.5,770L907.4,779L908.4,791L910.1,802L911.6,807L913.4,807L914.9,802L916.6,791L917.6,779L918.5,770L917.4,761L917.5,741L918.8,737L917.6,733L917.9,715L918.3,688Z" class="bk" style="stroke-width:2.8"/>
<path d="M903.1,599.5L901,604L901,611L902.9,623L904.5,636L905.1,651L905.4,667L905.6,680L904.7,684L905.8,688L906.2,715L906.5,733L905.3,737L906.6,741L906.7,761L905.6,770L906.5,779L907.5,791L909.2,802L910.7,807L911.9,809L913.1,809L914.3,807L915.8,802L917.5,791L918.5,779L919.4,770L918.3,761L918.4,741L919.7,737L918.5,733L918.8,715L919.2,688L920.3,684L919.4,680L919.6,667L919.9,651L920.5,636L922.1,623L924,611L924,604L921.9,599.5Z" class="bd"/>
<path d="M906.1,730 l-4.6,5.5 l5.6,0.8z M918.9,730 l4.6,5.5 l-5.6,0.8z" fill="#000"/>
<path d="M905.6,676 l-3.6,5.5 l4.6,0.8z M919.4,676 l3.6,5.5 l-4.6,0.8z" fill="#000"/>
<path d="M906,767 l-3.2,5.5 l4.2,0.8z M919,767 l3.2,5.5 l-4.2,0.8z" fill="#000"/>
<path d="M895.5,600.9 C895.5,596.9 904.5,594.6 912.5,594.6 C920.5,594.6 929.5,596.9 929.5,600.9 C929.5,603.2 926,602.8 924,601.2 C920,599.3 905,599.3 901,601.2 C899,602.8 895.5,603.2 895.5,600.9Z" class="cp"/>
<path d="M912.5,588 v7" class="st"/>
<rect x="906.8" y="577" width="11.4" height="11.7" class="sq"/></g>
<g><path d="M795.6,601L793.5,605.5L793.5,612.5L795.4,624.5L797,637.5L797.6,652.5L797.9,668.5L798.1,681.5L797.2,685.5L798.3,689.5L811.7,689.5L812.8,685.5L811.9,681.5L812.1,668.5L812.4,652.5L813,637.5L814.6,624.5L816.5,612.5L816.5,605.5L814.4,601Z" fill="url(#pa)"/>
<path d="M798.3,689.5L798.7,716.5L799,734.5L797.8,738.5L799.1,742.5L799.2,762.5L798.1,771.5L799,780.5L800,792.5L801.7,803.5L803.2,808.5L804.4,810.5L805.6,810.5L806.8,808.5L808.3,803.5L810,792.5L811,780.5L811.9,771.5L810.8,762.5L810.9,742.5L812.2,738.5L811,734.5L811.3,716.5L811.7,689.5Z" fill="url(#pb)"/>
<path d="M796.7,602L795.1,605.5L795.1,612.5L797,624.5L798.6,637.5L799.2,652.5L799.5,668.5L799.7,681.5L798.8,685.5L799.9,689.5L799.9,691.5L810.1,691.5L810.1,689.5L811.2,685.5L810.3,681.5L810.5,668.5L810.8,652.5L811.4,637.5L813,624.5L814.9,612.5L814.9,605.5L813.3,602Z" class="bk"/>
<path d="M799.2,689.5L799.6,716.5L799.9,734.5L798.7,738.5L800,742.5L800.1,762.5L799,771.5L799.9,780.5L800.9,792.5L802.6,803.5L804.1,808.5L805.9,808.5L807.4,803.5L809.1,792.5L810.1,780.5L811,771.5L809.9,762.5L810,742.5L811.3,738.5L810.1,734.5L810.4,716.5L810.8,689.5Z" class="bk" style="stroke-width:2.8"/>
<path d="M795.6,601L793.5,605.5L793.5,612.5L795.4,624.5L797,637.5L797.6,652.5L797.9,668.5L798.1,681.5L797.2,685.5L798.3,689.5L798.7,716.5L799,734.5L797.8,738.5L799.1,742.5L799.2,762.5L798.1,771.5L799,780.5L800,792.5L801.7,803.5L803.2,808.5L804.4,810.5L805.6,810.5L806.8,808.5L808.3,803.5L810,792.5L811,780.5L811.9,771.5L810.8,762.5L810.9,742.5L812.2,738.5L811,734.5L811.3,716.5L811.7,689.5L812.8,685.5L811.9,681.5L812.1,668.5L812.4,652.5L813,637.5L814.6,624.5L816.5,612.5L816.5,605.5L814.4,601Z" class="bd"/>
<path d="M798.6,731.5 l-4.6,5.5 l5.6,0.8z M811.4,731.5 l4.6,5.5 l-5.6,0.8z" fill="#000"/>
<path d="M798.1,677.5 l-3.6,5.5 l4.6,0.8z M811.9,677.5 l3.6,5.5 l-4.6,0.8z" fill="#000"/>
<path d="M798.5,768.5 l-3.2,5.5 l4.2,0.8z M811.5,768.5 l3.2,5.5 l-4.2,0.8z" fill="#000"/>
<path d="M788,602.4 C788,598.4 797,596.1 805,596.1 C813,596.1 822,598.4 822,602.4 C822,604.7 818.5,604.3 816.5,602.7 C812.5,600.8 797.5,600.8 793.5,602.7 C791.5,604.3 788,604.7 788,602.4Z" class="cp"/>
<path d="M805,589.5 v7" class="st"/>
<rect x="799.3" y="578.5" width="11.4" height="11.7" class="sq"/></g>
<g><path d="M505.1,618.5L503,623L503,630L504.9,642L506.5,655L507.1,670L507.4,686L507.6,699L506.7,703L507.8,707L521.2,707L522.3,703L521.4,699L521.6,686L521.9,670L522.5,655L524.1,642L526,630L526,623L523.9,618.5Z" fill="url(#pa)"/>
<path d="M507.8,707L508.2,734L508.5,752L507.3,756L508.6,760L508.7,780L507.6,789L508.5,798L509.5,810L511.2,821L512.7,826L513.9,828L515.1,828L516.3,826L517.8,821L519.5,810L520.5,798L521.4,789L520.3,780L520.4,760L521.7,756L520.5,752L520.8,734L521.2,707Z" fill="url(#pb)"/>
<path d="M506.2,619.5L504.6,623L504.6,630L506.5,642L508.1,655L508.7,670L509,686L509.2,699L508.3,703L509.4,707L509.4,709L519.6,709L519.6,707L520.7,703L519.8,699L520,686L520.3,670L520.9,655L522.5,642L524.4,630L524.4,623L522.8,619.5Z" class="bk"/>
<path d="M508.7,707L509.1,734L509.4,752L508.2,756L509.5,760L509.6,780L508.5,789L509.4,798L510.4,810L512.1,821L513.6,826L515.4,826L516.9,821L518.6,810L519.6,798L520.5,789L519.4,780L519.5,760L520.8,756L519.6,752L519.9,734L520.3,707Z" class="bk" style="stroke-width:2.8"/>
<path d="M505.1,618.5L503,623L503,630L504.9,642L506.5,655L507.1,670L507.4,686L507.6,699L506.7,703L507.8,707L508.2,734L508.5,752L507.3,756L508.6,760L508.7,780L507.6,789L508.5,798L509.5,810L511.2,821L512.7,826L513.9,828L515.1,828L516.3,826L517.8,821L519.5,810L520.5,798L521.4,789L520.3,780L520.4,760L521.7,756L520.5,752L520.8,734L521.2,707L522.3,703L521.4,699L521.6,686L521.9,670L522.5,655L524.1,642L526,630L526,623L523.9,618.5Z" class="bd"/>
<path d="M508.1,749 l-4.6,5.5 l5.6,0.8z M520.9,749 l4.6,5.5 l-5.6,0.8z" fill="#000"/>
<path d="M507.6,695 l-3.6,5.5 l4.6,0.8z M521.4,695 l3.6,5.5 l-4.6,0.8z" fill="#000"/>
<path d="M508,786 l-3.2,5.5 l4.2,0.8z M521,786 l3.2,5.5 l-4.2,0.8z" fill="#000"/>
<path d="M497.5,619.9 C497.5,615.9 506.5,613.6 514.5,613.6 C522.5,613.6 531.5,615.9 531.5,619.9 C531.5,622.2 528,621.8 526,620.2 C522,618.3 507,618.3 503,620.2 C501,621.8 497.5,622.2 497.5,619.9Z" class="cp"/>
<path d="M514.5,607 v7" class="st"/>
<rect x="508.8" y="596" width="11.4" height="11.7" class="sq"/></g>
<g><path d="M939.6,631L937.5,635.5L937.5,642.5L939.4,654.5L941,667.5L941.6,682.5L941.9,698.5L942.1,711.5L941.2,715.5L942.3,719.5L955.7,719.5L956.8,715.5L955.9,711.5L956.1,698.5L956.4,682.5L957,667.5L958.6,654.5L960.5,642.5L960.5,635.5L958.4,631Z" fill="url(#pa)"/>
<path d="M942.3,719.5L942.7,746.5L943,764.5L941.8,768.5L943.1,772.5L943.2,792.5L942.1,801.5L943,810.5L944,822.5L945.7,833.5L947.2,838.5L948.4,840.5L949.6,840.5L950.8,838.5L952.3,833.5L954,822.5L955,810.5L955.9,801.5L954.8,792.5L954.9,772.5L956.2,768.5L955,764.5L955.3,746.5L955.7,719.5Z" fill="url(#pb)"/>
<path d="M940.7,632L939.1,635.5L939.1,642.5L941,654.5L942.6,667.5L943.2,682.5L943.5,698.5L943.7,711.5L942.8,715.5L943.9,719.5L943.9,721.5L954.1,721.5L954.1,719.5L955.2,715.5L954.3,711.5L954.5,698.5L954.8,682.5L955.4,667.5L957,654.5L958.9,642.5L958.9,635.5L957.3,632Z" class="bk"/>
<path d="M943.2,719.5L943.6,746.5L943.9,764.5L942.7,768.5L944,772.5L944.1,792.5L943,801.5L943.9,810.5L944.9,822.5L946.6,833.5L948.1,838.5L949.9,838.5L951.4,833.5L953.1,822.5L954.1,810.5L955,801.5L953.9,792.5L954,772.5L955.3,768.5L954.1,764.5L954.4,746.5L954.8,719.5Z" class="bk" style="stroke-width:2.8"/>
<path d="M939.6,631L937.5,635.5L937.5,642.5L939.4,654.5L941,667.5L941.6,682.5L941.9,698.5L942.1,711.5L941.2,715.5L942.3,719.5L942.7,746.5L943,764.5L941.8,768.5L943.1,772.5L943.2,792.5L942.1,801.5L943,810.5L944,822.5L945.7,833.5L947.2,838.5L948.4,840.5L949.6,840.5L950.8,838.5L952.3,833.5L954,822.5L955,810.5L955.9,801.5L954.8,792.5L954.9,772.5L956.2,768.5L955,764.5L955.3,746.5L955.7,719.5L956.8,715.5L955.9,711.5L956.1,698.5L956.4,682.5L957,667.5L958.6,654.5L960.5,642.5L960.5,635.5L958.4,631Z" class="bd"/>
<path d="M942.6,761.5 l-4.6,5.5 l5.6,0.8z M955.4,761.5 l4.6,5.5 l-5.6,0.8z" fill="#000"/>
<path d="M942.1,707.5 l-3.6,5.5 l4.6,0.8z M955.9,707.5 l3.6,5.5 l-4.6,0.8z" fill="#000"/>
<path d="M942.5,798.5 l-3.2,5.5 l4.2,0.8z M955.5,798.5 l3.2,5.5 l-4.2,0.8z" fill="#000"/>
<path d="M932,632.4 C932,628.4 941,626.1 949,626.1 C957,626.1 966,628.4 966,632.4 C966,634.7 962.5,634.3 960.5,632.7 C956.5,630.8 941.5,630.8 937.5,632.7 C935.5,634.3 932,634.7 932,632.4Z" class="cp"/>
<path d="M949,619.5 v7" class="st"/>
<rect x="943.8" y="610" width="10.5" height="10.5" class="sq" transform="rotate(45 949 615.2)"/></g>
<g><path d="M395.6,649.5L393.5,654L393.5,661L395.4,673L397,686L397.6,701L397.9,717L398.1,730L397.2,734L398.3,738L411.7,738L412.8,734L411.9,730L412.1,717L412.4,701L413,686L414.6,673L416.5,661L416.5,654L414.4,649.5Z" fill="url(#pa)"/>
<path d="M398.3,738L398.7,765L399,783L397.8,787L399.1,791L399.2,811L398.1,820L399,829L400,841L401.7,852L403.2,857L404.4,859L405.6,859L406.8,857L408.3,852L410,841L411,829L411.9,820L410.8,811L410.9,791L412.2,787L411,783L411.3,765L411.7,738Z" fill="url(#pb)"/>
<path d="M396.7,650.5L395.1,654L395.1,661L397,673L398.6,686L399.2,701L399.5,717L399.7,730L398.8,734L399.9,738L399.9,740L410.1,740L410.1,738L411.2,734L410.3,730L410.5,717L410.8,701L411.4,686L413,673L414.9,661L414.9,654L413.3,650.5Z" class="bk"/>
<path d="M399.2,738L399.6,765L399.9,783L398.7,787L400,791L400.1,811L399,820L399.9,829L400.9,841L402.6,852L404.1,857L405.9,857L407.4,852L409.1,841L410.1,829L411,820L409.9,811L410,791L411.3,787L410.1,783L410.4,765L410.8,738Z" class="bk" style="stroke-width:2.8"/>
<path d="M395.6,649.5L393.5,654L393.5,661L395.4,673L397,686L397.6,701L397.9,717L398.1,730L397.2,734L398.3,738L398.7,765L399,783L397.8,787L399.1,791L399.2,811L398.1,820L399,829L400,841L401.7,852L403.2,857L404.4,859L405.6,859L406.8,857L408.3,852L410,841L411,829L411.9,820L410.8,811L410.9,791L412.2,787L411,783L411.3,765L411.7,738L412.8,734L411.9,730L412.1,717L412.4,701L413,686L414.6,673L416.5,661L416.5,654L414.4,649.5Z" class="bd"/>
<path d="M398.6,780 l-4.6,5.5 l5.6,0.8z M411.4,780 l4.6,5.5 l-5.6,0.8z" fill="#000"/>
<path d="M398.1,726 l-3.6,5.5 l4.6,0.8z M411.9,726 l3.6,5.5 l-4.6,0.8z" fill="#000"/>
<path d="M398.5,817 l-3.2,5.5 l4.2,0.8z M411.5,817 l3.2,5.5 l-4.2,0.8z" fill="#000"/>
<path d="M388,650.9 C388,646.9 397,644.6 405,644.6 C413,644.6 422,646.9 422,650.9 C422,653.2 418.5,652.8 416.5,651.2 C412.5,649.3 397.5,649.3 393.5,651.2 C391.5,652.8 388,653.2 388,650.9Z" class="cp"/>
<path d="M405,638 v7" class="st"/>
<rect x="399.3" y="627" width="11.4" height="11.7" class="sq"/>
<path d="M401,627.5 l6,10" class="ln"/></g>
<g><path d="M1016.6,669.5L1014.5,674L1014.5,681L1016.4,693L1018,706L1018.6,721L1018.9,737L1019.1,750L1018.2,754L1019.3,758L1032.7,758L1033.8,754L1032.9,750L1033.1,737L1033.4,721L1034,706L1035.6,693L1037.5,681L1037.5,674L1035.4,669.5Z" fill="url(#pa)"/>
<path d="M1019.3,758L1019.7,785L1020,803L1018.8,807L1020.1,811L1020.2,831L1019.1,840L1020,849L1021,861L1022.7,872L1024.2,877L1025.4,879L1026.6,879L1027.8,877L1029.3,872L1031,861L1032,849L1032.9,840L1031.8,831L1031.9,811L1033.2,807L1032,803L1032.3,785L1032.7,758Z" fill="url(#pb)"/>
<path d="M1017.7,670.5L1016.1,674L1016.1,681L1018,693L1019.6,706L1020.2,721L1020.5,737L1020.7,750L1019.8,754L1020.9,758L1020.9,760L1031.1,760L1031.1,758L1032.2,754L1031.3,750L1031.5,737L1031.8,721L1032.4,706L1034,693L1035.9,681L1035.9,674L1034.3,670.5Z" class="bk"/>
<path d="M1020.2,758L1020.6,785L1020.9,803L1019.7,807L1021,811L1021.1,831L1020,840L1020.9,849L1021.9,861L1023.6,872L1025.1,877L1026.9,877L1028.4,872L1030.1,861L1031.1,849L1032,840L1030.9,831L1031,811L1032.3,807L1031.1,803L1031.4,785L1031.8,758Z" class="bk" style="stroke-width:2.8"/>
<path d="M1016.6,669.5L1014.5,674L1014.5,681L1016.4,693L1018,706L1018.6,721L1018.9,737L1019.1,750L1018.2,754L1019.3,758L1019.7,785L1020,803L1018.8,807L1020.1,811L1020.2,831L1019.1,840L1020,849L1021,861L1022.7,872L1024.2,877L1025.4,879L1026.6,879L1027.8,877L1029.3,872L1031,861L1032,849L1032.9,840L1031.8,831L1031.9,811L1033.2,807L1032,803L1032.3,785L1032.7,758L1033.8,754L1032.9,750L1033.1,737L1033.4,721L1034,706L1035.6,693L1037.5,681L1037.5,674L1035.4,669.5Z" class="bd"/>
<path d="M1019.6,800 l-4.6,5.5 l5.6,0.8z M1032.4,800 l4.6,5.5 l-5.6,0.8z" fill="#000"/>
<path d="M1019.1,746 l-3.6,5.5 l4.6,0.8z M1032.9,746 l3.6,5.5 l-4.6,0.8z" fill="#000"/>
<path d="M1019.5,837 l-3.2,5.5 l4.2,0.8z M1032.5,837 l3.2,5.5 l-4.2,0.8z" fill="#000"/>
<path d="M1009,670.9 C1009,666.9 1018,664.6 1026,664.6 C1034,664.6 1043,666.9 1043,670.9 C1043,673.2 1039.5,672.8 1037.5,671.2 C1033.5,669.3 1018.5,669.3 1014.5,671.2 C1012.5,672.8 1009,673.2 1009,670.9Z" class="cp"/>
<path d="M1026,658 v7" class="st"/>
<rect x="1020" y="646.5" width="12" height="12" class="sq" transform="rotate(12 1026 652)"/>
<path d="M1031,647 l-8,18" class="ln"/></g>
<g><path d="M594.6,678.5L592.5,683L592.5,690L594.4,702L596,715L596.6,730L596.9,746L597.1,759L596.2,763L597.3,767L610.7,767L611.8,763L610.9,759L611.1,746L611.4,730L612,715L613.6,702L615.5,690L615.5,683L613.4,678.5Z" fill="url(#pa)"/>
<path d="M597.3,767L597.7,794L598,812L596.8,816L598.1,820L598.2,840L597.1,849L598,858L599,870L600.7,881L602.2,886L603.4,888L604.6,888L605.8,886L607.3,881L609,870L610,858L610.9,849L609.8,840L609.9,820L611.2,816L610,812L610.3,794L610.7,767Z" fill="url(#pb)"/>
<path d="M595.7,679.5L594.1,683L594.1,690L596,702L597.6,715L598.2,730L598.5,746L598.7,759L597.8,763L598.9,767L598.9,769L609.1,769L609.1,767L610.2,763L609.3,759L609.5,746L609.8,730L610.4,715L612,702L613.9,690L613.9,683L612.3,679.5Z" class="bk"/>
<path d="M598.2,767L598.6,794L598.9,812L597.7,816L599,820L599.1,840L598,849L598.9,858L599.9,870L601.6,881L603.1,886L604.9,886L606.4,881L608.1,870L609.1,858L610,849L608.9,840L609,820L610.3,816L609.1,812L609.4,794L609.8,767Z" class="bk" style="stroke-width:2.8"/>
<path d="M594.6,678.5L592.5,683L592.5,690L594.4,702L596,715L596.6,730L596.9,746L597.1,759L596.2,763L597.3,767L597.7,794L598,812L596.8,816L598.1,820L598.2,840L597.1,849L598,858L599,870L600.7,881L602.2,886L603.4,888L604.6,888L605.8,886L607.3,881L609,870L610,858L610.9,849L609.8,840L609.9,820L611.2,816L610,812L610.3,794L610.7,767L611.8,763L610.9,759L611.1,746L611.4,730L612,715L613.6,702L615.5,690L615.5,683L613.4,678.5Z" class="bd"/>
<path d="M597.6,809 l-4.6,5.5 l5.6,0.8z M610.4,809 l4.6,5.5 l-5.6,0.8z" fill="#000"/>
<path d="M597.1,755 l-3.6,5.5 l4.6,0.8z M610.9,755 l3.6,5.5 l-4.6,0.8z" fill="#000"/>
<path d="M597.5,846 l-3.2,5.5 l4.2,0.8z M610.5,846 l3.2,5.5 l-4.2,0.8z" fill="#000"/>
<path d="M587,679.9 C587,675.9 596,673.6 604,673.6 C612,673.6 621,675.9 621,679.9 C621,682.2 617.5,681.8 615.5,680.2 C611.5,678.3 596.5,678.3 592.5,680.2 C590.5,681.8 587,682.2 587,679.9Z" class="cp"/>
<path d="M604,667 v7" class="st"/>
<rect x="598.3" y="656" width="11.4" height="11.7" class="sq"/></g>
<g><path d="M1035.6,715.5L1033.5,720L1033.5,727L1035.4,739L1037,752L1037.6,767L1037.9,783L1038.1,796L1037.2,800L1038.3,804L1051.7,804L1052.8,800L1051.9,796L1052.1,783L1052.4,767L1053,752L1054.6,739L1056.5,727L1056.5,720L1054.4,715.5Z" fill="url(#pa)"/>
<path d="M1038.3,804L1038.7,831L1039,849L1037.8,853L1039.1,857L1039.2,877L1038.1,886L1039,895L1040,907L1041.7,918L1043.2,923L1044.4,925L1045.6,925L1046.8,923L1048.3,918L1050,907L1051,895L1051.9,886L1050.8,877L1050.9,857L1052.2,853L1051,849L1051.3,831L1051.7,804Z" fill="url(#pb)"/>
<path d="M1036.7,716.5L1035.1,720L1035.1,727L1037,739L1038.6,752L1039.2,767L1039.5,783L1039.7,796L1038.8,800L1039.9,804L1039.9,806L1050.1,806L1050.1,804L1051.2,800L1050.3,796L1050.5,783L1050.8,767L1051.4,752L1053,739L1054.9,727L1054.9,720L1053.3,716.5Z" class="bk"/>
<path d="M1039.2,804L1039.6,831L1039.9,849L1038.7,853L1040,857L1040.1,877L1039,886L1039.9,895L1040.9,907L1042.6,918L1044.1,923L1045.9,923L1047.4,918L1049.1,907L1050.1,895L1051,886L1049.9,877L1050,857L1051.3,853L1050.1,849L1050.4,831L1050.8,804Z" class="bk" style="stroke-width:2.8"/>
<path d="M1035.6,715.5L1033.5,720L1033.5,727L1035.4,739L1037,752L1037.6,767L1037.9,783L1038.1,796L1037.2,800L1038.3,804L1038.7,831L1039,849L1037.8,853L1039.1,857L1039.2,877L1038.1,886L1039,895L1040,907L1041.7,918L1043.2,923L1044.4,925L1045.6,925L1046.8,923L1048.3,918L1050,907L1051,895L1051.9,886L1050.8,877L1050.9,857L1052.2,853L1051,849L1051.3,831L1051.7,804L1052.8,800L1051.9,796L1052.1,783L1052.4,767L1053,752L1054.6,739L1056.5,727L1056.5,720L1054.4,715.5Z" class="bd"/>
<path d="M1038.6,846 l-4.6,5.5 l5.6,0.8z M1051.4,846 l4.6,5.5 l-5.6,0.8z" fill="#000"/>
<path d="M1038.1,792 l-3.6,5.5 l4.6,0.8z M1051.9,792 l3.6,5.5 l-4.6,0.8z" fill="#000"/>
<path d="M1038.5,883 l-3.2,5.5 l4.2,0.8z M1051.5,883 l3.2,5.5 l-4.2,0.8z" fill="#000"/>
<path d="M1028,716.9 C1028,712.9 1037,710.6 1045,710.6 C1053,710.6 1062,712.9 1062,716.9 C1062,719.2 1058.5,718.8 1056.5,717.2 C1052.5,715.3 1037.5,715.3 1033.5,717.2 C1031.5,718.8 1028,719.2 1028,716.9Z" class="cp"/></g>
<g><path d="M382.6,717.5L380.5,722L380.5,729L382.4,741L384,754L384.6,769L384.9,785L385.1,798L384.2,802L385.3,806L398.7,806L399.8,802L398.9,798L399.1,785L399.4,769L400,754L401.6,741L403.5,729L403.5,722L401.4,717.5Z" fill="url(#pa)"/>
<path d="M385.3,806L385.7,833L386,851L384.8,855L386.1,859L386.2,879L385.1,888L386,897L387,909L388.7,920L390.2,925L391.4,927L392.6,927L393.8,925L395.3,920L397,909L398,897L398.9,888L397.8,879L397.9,859L399.2,855L398,851L398.3,833L398.7,806Z" fill="url(#pb)"/>
<path d="M383.7,718.5L382.1,722L382.1,729L384,741L385.6,754L386.2,769L386.5,785L386.7,798L385.8,802L386.9,806L386.9,808L397.1,808L397.1,806L398.2,802L397.3,798L397.5,785L397.8,769L398.4,754L400,741L401.9,729L401.9,722L400.3,718.5Z" class="bk"/>
<path d="M386.2,806L386.6,833L386.9,851L385.7,855L387,859L387.1,879L386,888L386.9,897L387.9,909L389.6,920L391.1,925L392.9,925L394.4,920L396.1,909L397.1,897L398,888L396.9,879L397,859L398.3,855L397.1,851L397.4,833L397.8,806Z" class="bk" style="stroke-width:2.8"/>
<path d="M382.6,717.5L380.5,722L380.5,729L382.4,741L384,754L384.6,769L384.9,785L385.1,798L384.2,802L385.3,806L385.7,833L386,851L384.8,855L386.1,859L386.2,879L385.1,888L386,897L387,909L388.7,920L390.2,925L391.4,927L392.6,927L393.8,925L395.3,920L397,909L398,897L398.9,888L397.8,879L397.9,859L399.2,855L398,851L398.3,833L398.7,806L399.8,802L398.9,798L399.1,785L399.4,769L400,754L401.6,741L403.5,729L403.5,722L401.4,717.5Z" class="bd"/>
<path d="M385.6,848 l-4.6,5.5 l5.6,0.8z M398.4,848 l4.6,5.5 l-5.6,0.8z" fill="#000"/>
<path d="M385.1,794 l-3.6,5.5 l4.6,0.8z M398.9,794 l3.6,5.5 l-4.6,0.8z" fill="#000"/>
<path d="M385.5,885 l-3.2,5.5 l4.2,0.8z M398.5,885 l3.2,5.5 l-4.2,0.8z" fill="#000"/>
<path d="M375,718.9 C375,714.9 384,712.6 392,712.6 C400,712.6 409,714.9 409,718.9 C409,721.2 405.5,720.8 403.5,719.2 C399.5,717.3 384.5,717.3 380.5,719.2 C378.5,720.8 375,721.2 375,718.9Z" class="cp"/>
<path d="M389,713 l-7,-19" stroke="#000" stroke-width="7.5" fill="none"/>
<path d="M389,711.8 l-6.2,-16.8" stroke="#fff" stroke-width="3.3" fill="none"/></g>
<g><path d="M1037.6,614.5L1035.5,619L1035.5,626L1037.4,638L1039,651L1039.6,666L1039.9,682L1040.1,695L1039.2,699L1040.3,703L1053.7,703L1054.8,699L1053.9,695L1054.1,682L1054.4,666L1055,651L1056.6,638L1058.5,626L1058.5,619L1056.4,614.5Z" fill="url(#pa)"/>
<path d="M1040.3,703L1040.7,730L1041,748L1039.8,752L1041.1,756L1041.2,776L1040.1,785L1041,794L1042,806L1043.7,817L1045.2,822L1046.4,824L1047.6,824L1048.8,822L1050.3,817L1052,806L1053,794L1053.9,785L1052.8,776L1052.9,756L1054.2,752L1053,748L1053.3,730L1053.7,703Z" fill="url(#pb)"/>
<path d="M1038.7,615.5L1037.1,619L1037.1,626L1039,638L1040.6,651L1041.2,666L1041.5,682L1041.7,695L1040.8,699L1041.9,703L1041.9,705L1052.1,705L1052.1,703L1053.2,699L1052.3,695L1052.5,682L1052.8,666L1053.4,651L1055,638L1056.9,626L1056.9,619L1055.3,615.5Z" class="bk"/>
<path d="M1041.2,703L1041.6,730L1041.9,748L1040.7,752L1042,756L1042.1,776L1041,785L1041.9,794L1042.9,806L1044.6,817L1046.1,822L1047.9,822L1049.4,817L1051.1,806L1052.1,794L1053,785L1051.9,776L1052,756L1053.3,752L1052.1,748L1052.4,730L1052.8,703Z" class="bk" style="stroke-width:2.8"/>
<path d="M1037.6,614.5L1035.5,619L1035.5,626L1037.4,638L1039,651L1039.6,666L1039.9,682L1040.1,695L1039.2,699L1040.3,703L1040.7,730L1041,748L1039.8,752L1041.1,756L1041.2,776L1040.1,785L1041,794L1042,806L1043.7,817L1045.2,822L1046.4,824L1047.6,824L1048.8,822L1050.3,817L1052,806L1053,794L1053.9,785L1052.8,776L1052.9,756L1054.2,752L1053,748L1053.3,730L1053.7,703L1054.8,699L1053.9,695L1054.1,682L1054.4,666L1055,651L1056.6,638L1058.5,626L1058.5,619L1056.4,614.5Z" class="bd"/>
<path d="M1040.6,745 l-4.6,5.5 l5.6,0.8z M1053.4,745 l4.6,5.5 l-5.6,0.8z" fill="#000"/>
<path d="M1040.1,691 l-3.6,5.5 l4.6,0.8z M1053.9,691 l3.6,5.5 l-4.6,0.8z" fill="#000"/>
<path d="M1040.5,782 l-3.2,5.5 l4.2,0.8z M1053.5,782 l3.2,5.5 l-4.2,0.8z" fill="#000"/>
<path d="M1030,615.9 C1030,611.9 1039,609.6 1047,609.6 C1055,609.6 1064,611.9 1064,615.9 C1064,618.2 1060.5,617.8 1058.5,616.2 C1054.5,614.3 1039.5,614.3 1035.5,616.2 C1033.5,617.8 1030,618.2 1030,615.9Z" class="cp"/>
<path d="M1047,603 v7" class="st"/>
<rect x="1041.3" y="592" width="11.4" height="11.7" class="sq"/></g>
<g><path d="M541.6,739.5L539.5,744L539.5,751L541.4,763L543,776L543.6,791L543.9,807L544.1,820L543.2,824L544.3,828L557.7,828L558.8,824L557.9,820L558.1,807L558.4,791L559,776L560.6,763L562.5,751L562.5,744L560.4,739.5Z" fill="url(#pa)"/>
<path d="M544.3,828L544.7,855L545,873L543.8,877L545.1,881L545.2,901L544.1,910L545,919L546,931L547.7,942L549.2,947L550.4,949L551.6,949L552.8,947L554.3,942L556,931L557,919L557.9,910L556.8,901L556.9,881L558.2,877L557,873L557.3,855L557.7,828Z" fill="url(#pb)"/>
<path d="M542.7,740.5L541.1,744L541.1,751L543,763L544.6,776L545.2,791L545.5,807L545.7,820L544.8,824L545.9,828L545.9,830L556.1,830L556.1,828L557.2,824L556.3,820L556.5,807L556.8,791L557.4,776L559,763L560.9,751L560.9,744L559.3,740.5Z" class="bk"/>
<path d="M545.2,828L545.6,855L545.9,873L544.7,877L546,881L546.1,901L545,910L545.9,919L546.9,931L548.6,942L550.1,947L551.9,947L553.4,942L555.1,931L556.1,919L557,910L555.9,901L556,881L557.3,877L556.1,873L556.4,855L556.8,828Z" class="bk" style="stroke-width:2.8"/>
<path d="M541.6,739.5L539.5,744L539.5,751L541.4,763L543,776L543.6,791L543.9,807L544.1,820L543.2,824L544.3,828L544.7,855L545,873L543.8,877L545.1,881L545.2,901L544.1,910L545,919L546,931L547.7,942L549.2,947L550.4,949L551.6,949L552.8,947L554.3,942L556,931L557,919L557.9,910L556.8,901L556.9,881L558.2,877L557,873L557.3,855L557.7,828L558.8,824L557.9,820L558.1,807L558.4,791L559,776L560.6,763L562.5,751L562.5,744L560.4,739.5Z" class="bd"/>
<path d="M544.6,870 l-4.6,5.5 l5.6,0.8z M557.4,870 l4.6,5.5 l-5.6,0.8z" fill="#000"/>
<path d="M544.1,816 l-3.6,5.5 l4.6,0.8z M557.9,816 l3.6,5.5 l-4.6,0.8z" fill="#000"/>
<path d="M544.5,907 l-3.2,5.5 l4.2,0.8z M557.5,907 l3.2,5.5 l-4.2,0.8z" fill="#000"/>
<path d="M534,740.9 C534,736.9 543,734.6 551,734.6 C559,734.6 568,736.9 568,740.9 C568,743.2 564.5,742.8 562.5,741.2 C558.5,739.3 543.5,739.3 539.5,741.2 C537.5,742.8 534,743.2 534,740.9Z" class="cp"/></g>
<g><path d="M978.1,756.5L976,761L976,768L977.9,780L979.5,793L980.1,808L980.4,824L980.6,837L979.7,841L980.8,845L994.2,845L995.3,841L994.4,837L994.6,824L994.9,808L995.5,793L997.1,780L999,768L999,761L996.9,756.5Z" fill="url(#pa)"/>
<path d="M980.8,845L981.2,872L981.5,890L980.3,894L981.6,898L981.7,918L980.6,927L981.5,936L982.5,948L984.2,959L985.7,964L986.9,966L988.1,966L989.3,964L990.8,959L992.5,948L993.5,936L994.4,927L993.3,918L993.4,898L994.7,894L993.5,890L993.8,872L994.2,845Z" fill="url(#pb)"/>
<path d="M979.2,757.5L977.6,761L977.6,768L979.5,780L981.1,793L981.7,808L982,824L982.2,837L981.3,841L982.4,845L982.4,847L992.6,847L992.6,845L993.7,841L992.8,837L993,824L993.3,808L993.9,793L995.5,780L997.4,768L997.4,761L995.8,757.5Z" class="bk"/>
<path d="M981.7,845L982.1,872L982.4,890L981.2,894L982.5,898L982.6,918L981.5,927L982.4,936L983.4,948L985.1,959L986.6,964L988.4,964L989.9,959L991.6,948L992.6,936L993.5,927L992.4,918L992.5,898L993.8,894L992.6,890L992.9,872L993.3,845Z" class="bk" style="stroke-width:2.8"/>
<path d="M978.1,756.5L976,761L976,768L977.9,780L979.5,793L980.1,808L980.4,824L980.6,837L979.7,841L980.8,845L981.2,872L981.5,890L980.3,894L981.6,898L981.7,918L980.6,927L981.5,936L982.5,948L984.2,959L985.7,964L986.9,966L988.1,966L989.3,964L990.8,959L992.5,948L993.5,936L994.4,927L993.3,918L993.4,898L994.7,894L993.5,890L993.8,872L994.2,845L995.3,841L994.4,837L994.6,824L994.9,808L995.5,793L997.1,780L999,768L999,761L996.9,756.5Z" class="bd"/>
<path d="M981.1,887 l-4.6,5.5 l5.6,0.8z M993.9,887 l4.6,5.5 l-5.6,0.8z" fill="#000"/>
<path d="M980.6,833 l-3.6,5.5 l4.6,0.8z M994.4,833 l3.6,5.5 l-4.6,0.8z" fill="#000"/>
<path d="M981,924 l-3.2,5.5 l4.2,0.8z M994,924 l3.2,5.5 l-4.2,0.8z" fill="#000"/>
<path d="M970.5,757.9 C970.5,753.9 979.5,751.6 987.5,751.6 C995.5,751.6 1004.5,753.9 1004.5,757.9 C1004.5,760.2 1001,759.8 999,758.2 C995,756.3 980,756.3 976,758.2 C974,759.8 970.5,760.2 970.5,757.9Z" class="cp"/>
<path d="M987.5,745 v7" class="st"/>
<rect x="981.8" y="734" width="11.4" height="11.7" class="sq"/></g>
<g><path d="M623.1,761.5L621,766L621,773L622.9,785L624.5,798L625.1,813L625.4,829L625.6,842L624.7,846L625.8,850L639.2,850L640.3,846L639.4,842L639.6,829L639.9,813L640.5,798L642.1,785L644,773L644,766L641.9,761.5Z" fill="url(#pa)"/>
<path d="M625.8,850L626.2,877L626.5,895L625.3,899L626.6,903L626.7,923L625.6,932L626.5,941L627.5,953L629.2,964L630.7,969L631.9,971L633.1,971L634.3,969L635.8,964L637.5,953L638.5,941L639.4,932L638.3,923L638.4,903L639.7,899L638.5,895L638.8,877L639.2,850Z" fill="url(#pb)"/>
<path d="M624.2,762.5L622.6,766L622.6,773L624.5,785L626.1,798L626.7,813L627,829L627.2,842L626.3,846L627.4,850L627.4,852L637.6,852L637.6,850L638.7,846L637.8,842L638,829L638.3,813L638.9,798L640.5,785L642.4,773L642.4,766L640.8,762.5Z" class="bk"/>
<path d="M626.7,850L627.1,877L627.4,895L626.2,899L627.5,903L627.6,923L626.5,932L627.4,941L628.4,953L630.1,964L631.6,969L633.4,969L634.9,964L636.6,953L637.6,941L638.5,932L637.4,923L637.5,903L638.8,899L637.6,895L637.9,877L638.3,850Z" class="bk" style="stroke-width:2.8"/>
<path d="M623.1,761.5L621,766L621,773L622.9,785L624.5,798L625.1,813L625.4,829L625.6,842L624.7,846L625.8,850L626.2,877L626.5,895L625.3,899L626.6,903L626.7,923L625.6,932L626.5,941L627.5,953L629.2,964L630.7,969L631.9,971L633.1,971L634.3,969L635.8,964L637.5,953L638.5,941L639.4,932L638.3,923L638.4,903L639.7,899L638.5,895L638.8,877L639.2,850L640.3,846L639.4,842L639.6,829L639.9,813L640.5,798L642.1,785L644,773L644,766L641.9,761.5Z" class="bd"/>
<path d="M626.1,892 l-4.6,5.5 l5.6,0.8z M638.9,892 l4.6,5.5 l-5.6,0.8z" fill="#000"/>
<path d="M625.6,838 l-3.6,5.5 l4.6,0.8z M639.4,838 l3.6,5.5 l-4.6,0.8z" fill="#000"/>
<path d="M626,929 l-3.2,5.5 l4.2,0.8z M639,929 l3.2,5.5 l-4.2,0.8z" fill="#000"/>
<path d="M615.5,762.9 C615.5,758.9 624.5,756.6 632.5,756.6 C640.5,756.6 649.5,758.9 649.5,762.9 C649.5,765.2 646,764.8 644,763.2 C640,761.3 625,761.3 621,763.2 C619,764.8 615.5,765.2 615.5,762.9Z" class="cp"/>
<path d="M632.5,750 v7" class="st"/>
<rect x="626.8" y="739" width="11.4" height="11.7" class="sq"/></g>
<g><path d="M447.4,769.5L445.2,774L445.2,781L447.1,793L448.8,806L449.4,821L449.6,837L449.9,850L448.9,854L450.1,858L463.4,858L464.6,854L463.6,850L463.9,837L464.1,821L464.8,806L466.4,793L468.2,781L468.2,774L466.1,769.5Z" fill="url(#pa)"/>
<path d="M450.1,858L450.4,885L450.8,903L449.6,907L450.9,911L450.9,931L449.9,940L450.8,949L451.8,961L453.4,972L454.9,977L456.1,979L457.4,979L458.6,977L460.1,972L461.8,961L462.8,949L463.6,940L462.6,931L462.6,911L463.9,907L462.8,903L463.1,885L463.4,858Z" fill="url(#pb)"/>
<path d="M448.5,770.5L446.9,774L446.9,781L448.8,793L450.4,806L450.9,821L451.2,837L451.4,850L450.6,854L451.6,858L451.7,860L461.8,860L461.9,858L462.9,854L462.1,850L462.2,837L462.6,821L463.1,806L464.8,793L466.6,781L466.6,774L465,770.5Z" class="bk"/>
<path d="M450.9,858L451.4,885L451.6,903L450.4,907L451.8,911L451.9,931L450.8,940L451.6,949L452.6,961L454.4,972L455.9,977L457.6,977L459.1,972L460.9,961L461.9,949L462.8,940L461.6,931L461.8,911L463.1,907L461.9,903L462.1,885L462.6,858Z" class="bk" style="stroke-width:2.8"/>
<path d="M447.4,769.5L445.2,774L445.2,781L447.1,793L448.8,806L449.4,821L449.6,837L449.9,850L448.9,854L450.1,858L450.4,885L450.8,903L449.6,907L450.9,911L450.9,931L449.9,940L450.8,949L451.8,961L453.4,972L454.9,977L456.1,979L457.4,979L458.6,977L460.1,972L461.8,961L462.8,949L463.6,940L462.6,931L462.6,911L463.9,907L462.8,903L463.1,885L463.4,858L464.6,854L463.6,850L463.9,837L464.1,821L464.8,806L466.4,793L468.2,781L468.2,774L466.1,769.5Z" class="bd"/>
<path d="M450.4,900 l-4.6,5.5 l5.6,0.8z M463.1,900 l4.6,5.5 l-5.6,0.8z" fill="#000"/>
<path d="M449.8,846 l-3.6,5.5 l4.6,0.8z M463.7,846 l3.6,5.5 l-4.6,0.8z" fill="#000"/>
<path d="M450.2,937 l-3.2,5.5 l4.2,0.8z M463.2,937 l3.2,5.5 l-4.2,0.8z" fill="#000"/>
<path d="M439.8,770.9 C439.8,766.9 448.8,764.6 456.8,764.6 C464.8,764.6 473.8,766.9 473.8,770.9 C473.8,773.2 470.2,772.8 468.2,771.2 C464.2,769.3 449.2,769.3 445.2,771.2 C443.2,772.8 439.8,773.2 439.8,770.9Z" class="cp"/>
<path d="M456.8,758 v7" class="st"/>
<rect x="451.1" y="747" width="11.4" height="11.7" class="sq"/></g>
<g><path d="M719.1,783L717,787.5L717,794.5L718.9,806.5L720.5,819.5L721.1,834.5L721.4,850.5L721.6,863.5L720.7,867.5L721.8,871.5L735.2,871.5L736.3,867.5L735.4,863.5L735.6,850.5L735.9,834.5L736.5,819.5L738.1,806.5L740,794.5L740,787.5L737.9,783Z" fill="url(#pa)"/>
<path d="M721.8,871.5L722.2,898.5L722.5,916.5L721.3,920.5L722.6,924.5L722.7,944.5L721.6,953.5L722.5,962.5L723.5,974.5L725.2,985.5L726.7,990.5L727.9,992.5L729.1,992.5L730.3,990.5L731.8,985.5L733.5,974.5L734.5,962.5L735.4,953.5L734.3,944.5L734.4,924.5L735.7,920.5L734.5,916.5L734.8,898.5L735.2,871.5Z" fill="url(#pb)"/>
<path d="M720.2,784L718.6,787.5L718.6,794.5L720.5,806.5L722.1,819.5L722.7,834.5L723,850.5L723.2,863.5L722.3,867.5L723.4,871.5L723.4,873.5L733.6,873.5L733.6,871.5L734.7,867.5L733.8,863.5L734,850.5L734.3,834.5L734.9,819.5L736.5,806.5L738.4,794.5L738.4,787.5L736.8,784Z" class="bk"/>
<path d="M722.7,871.5L723.1,898.5L723.4,916.5L722.2,920.5L723.5,924.5L723.6,944.5L722.5,953.5L723.4,962.5L724.4,974.5L726.1,985.5L727.6,990.5L729.4,990.5L730.9,985.5L732.6,974.5L733.6,962.5L734.5,953.5L733.4,944.5L733.5,924.5L734.8,920.5L733.6,916.5L733.9,898.5L734.3,871.5Z" class="bk" style="stroke-width:2.8"/>
<path d="M719.1,783L717,787.5L717,794.5L718.9,806.5L720.5,819.5L721.1,834.5L721.4,850.5L721.6,863.5L720.7,867.5L721.8,871.5L722.2,898.5L722.5,916.5L721.3,920.5L722.6,924.5L722.7,944.5L721.6,953.5L722.5,962.5L723.5,974.5L725.2,985.5L726.7,990.5L727.9,992.5L729.1,992.5L730.3,990.5L731.8,985.5L733.5,974.5L734.5,962.5L735.4,953.5L734.3,944.5L734.4,924.5L735.7,920.5L734.5,916.5L734.8,898.5L735.2,871.5L736.3,867.5L735.4,863.5L735.6,850.5L735.9,834.5L736.5,819.5L738.1,806.5L740,794.5L740,787.5L737.9,783Z" class="bd"/>
<path d="M722.1,913.5 l-4.6,5.5 l5.6,0.8z M734.9,913.5 l4.6,5.5 l-5.6,0.8z" fill="#000"/>
<path d="M721.6,859.5 l-3.6,5.5 l4.6,0.8z M735.4,859.5 l3.6,5.5 l-4.6,0.8z" fill="#000"/>
<path d="M722,950.5 l-3.2,5.5 l4.2,0.8z M735,950.5 l3.2,5.5 l-4.2,0.8z" fill="#000"/>
<path d="M711.5,784.4 C711.5,780.4 720.5,778.1 728.5,778.1 C736.5,778.1 745.5,780.4 745.5,784.4 C745.5,786.7 742,786.3 740,784.7 C736,782.8 721,782.8 717,784.7 C715,786.3 711.5,786.7 711.5,784.4Z" class="cp"/>
<path d="M728.5,771.5 v7" class="st"/>
<rect x="722.8" y="760.5" width="11.4" height="11.7" class="sq"/></g>
<g><path d="M908.6,787.5L906.5,792L906.5,799L908.4,811L910,824L910.6,839L910.9,855L911.1,868L910.2,872L911.3,876L924.7,876L925.8,872L924.9,868L925.1,855L925.4,839L926,824L927.6,811L929.5,799L929.5,792L927.4,787.5Z" fill="url(#pa)"/>
<path d="M911.3,876L911.7,903L912,921L910.8,925L912.1,929L912.2,949L911.1,958L912,967L913,979L914.7,990L916.2,995L917.4,997L918.6,997L919.8,995L921.3,990L923,979L924,967L924.9,958L923.8,949L923.9,929L925.2,925L924,921L924.3,903L924.7,876Z" fill="url(#pb)"/>
<path d="M909.7,788.5L908.1,792L908.1,799L910,811L911.6,824L912.2,839L912.5,855L912.7,868L911.8,872L912.9,876L912.9,878L923.1,878L923.1,876L924.2,872L923.3,868L923.5,855L923.8,839L924.4,824L926,811L927.9,799L927.9,792L926.3,788.5Z" class="bk"/>
<path d="M912.2,876L912.6,903L912.9,921L911.7,925L913,929L913.1,949L912,958L912.9,967L913.9,979L915.6,990L917.1,995L918.9,995L920.4,990L922.1,979L923.1,967L924,958L922.9,949L923,929L924.3,925L923.1,921L923.4,903L923.8,876Z" class="bk" style="stroke-width:2.8"/>
<path d="M908.6,787.5L906.5,792L906.5,799L908.4,811L910,824L910.6,839L910.9,855L911.1,868L910.2,872L911.3,876L911.7,903L912,921L910.8,925L912.1,929L912.2,949L911.1,958L912,967L913,979L914.7,990L916.2,995L917.4,997L918.6,997L919.8,995L921.3,990L923,979L924,967L924.9,958L923.8,949L923.9,929L925.2,925L924,921L924.3,903L924.7,876L925.8,872L924.9,868L925.1,855L925.4,839L926,824L927.6,811L929.5,799L929.5,792L927.4,787.5Z" class="bd"/>
<path d="M911.6,918 l-4.6,5.5 l5.6,0.8z M924.4,918 l4.6,5.5 l-5.6,0.8z" fill="#000"/>
<path d="M911.1,864 l-3.6,5.5 l4.6,0.8z M924.9,864 l3.6,5.5 l-4.6,0.8z" fill="#000"/>
<path d="M911.5,955 l-3.2,5.5 l4.2,0.8z M924.5,955 l3.2,5.5 l-4.2,0.8z" fill="#000"/>
<path d="M901,788.9 C901,784.9 910,782.6 918,782.6 C926,782.6 935,784.9 935,788.9 C935,791.2 931.5,790.8 929.5,789.2 C925.5,787.3 910.5,787.3 906.5,789.2 C904.5,790.8 901,791.2 901,788.9Z" class="cp"/>
<path d="M918,776 v7" class="st"/>
<rect x="912.3" y="765" width="11.4" height="11.7" class="sq"/></g>
<g><path d="M514.6,808L512.5,812.5L512.5,819.5L514.4,831.5L516,844.5L516.6,859.5L516.9,875.5L517.1,888.5L516.2,892.5L517.3,896.5L530.7,896.5L531.8,892.5L530.9,888.5L531.1,875.5L531.4,859.5L532,844.5L533.6,831.5L535.5,819.5L535.5,812.5L533.4,808Z" fill="url(#pa)"/>
<path d="M517.3,896.5L517.7,923.5L518,941.5L516.8,945.5L518.1,949.5L518.2,969.5L517.1,978.5L518,987.5L519,999.5L520.7,1010.5L522.2,1015.5L523.4,1017.5L524.6,1017.5L525.8,1015.5L527.3,1010.5L529,999.5L530,987.5L530.9,978.5L529.8,969.5L529.9,949.5L531.2,945.5L530,941.5L530.3,923.5L530.7,896.5Z" fill="url(#pb)"/>
<path d="M515.7,809L514.1,812.5L514.1,819.5L516,831.5L517.6,844.5L518.2,859.5L518.5,875.5L518.7,888.5L517.8,892.5L518.9,896.5L518.9,898.5L529.1,898.5L529.1,896.5L530.2,892.5L529.3,888.5L529.5,875.5L529.8,859.5L530.4,844.5L532,831.5L533.9,819.5L533.9,812.5L532.3,809Z" class="bk"/>
<path d="M518.2,896.5L518.6,923.5L518.9,941.5L517.7,945.5L519,949.5L519.1,969.5L518,978.5L518.9,987.5L519.9,999.5L521.6,1010.5L523.1,1015.5L524.9,1015.5L526.4,1010.5L528.1,999.5L529.1,987.5L530,978.5L528.9,969.5L529,949.5L530.3,945.5L529.1,941.5L529.4,923.5L529.8,896.5Z" class="bk" style="stroke-width:2.8"/>
<path d="M514.6,808L512.5,812.5L512.5,819.5L514.4,831.5L516,844.5L516.6,859.5L516.9,875.5L517.1,888.5L516.2,892.5L517.3,896.5L517.7,923.5L518,941.5L516.8,945.5L518.1,949.5L518.2,969.5L517.1,978.5L518,987.5L519,999.5L520.7,1010.5L522.2,1015.5L523.4,1017.5L524.6,1017.5L525.8,1015.5L527.3,1010.5L529,999.5L530,987.5L530.9,978.5L529.8,969.5L529.9,949.5L531.2,945.5L530,941.5L530.3,923.5L530.7,896.5L531.8,892.5L530.9,888.5L531.1,875.5L531.4,859.5L532,844.5L533.6,831.5L535.5,819.5L535.5,812.5L533.4,808Z" class="bd"/>
<path d="M517.6,938.5 l-4.6,5.5 l5.6,0.8z M530.4,938.5 l4.6,5.5 l-5.6,0.8z" fill="#000"/>
<path d="M517.1,884.5 l-3.6,5.5 l4.6,0.8z M530.9,884.5 l3.6,5.5 l-4.6,0.8z" fill="#000"/>
<path d="M517.5,975.5 l-3.2,5.5 l4.2,0.8z M530.5,975.5 l3.2,5.5 l-4.2,0.8z" fill="#000"/>
<path d="M507,809.4 C507,805.4 516,803.1 524,803.1 C532,803.1 541,805.4 541,809.4 C541,811.7 537.5,811.3 535.5,809.7 C531.5,807.8 516.5,807.8 512.5,809.7 C510.5,811.3 507,811.7 507,809.4Z" class="cp"/>
<path d="M524,796.5 v7" class="st"/>
<rect x="518.3" y="785.5" width="11.4" height="11.7" class="sq"/></g>
<g><path d="M859.6,829.5L857.5,834L857.5,841L859.4,853L861,866L861.6,881L861.9,897L862.1,910L861.2,914L862.3,918L875.7,918L876.8,914L875.9,910L876.1,897L876.4,881L877,866L878.6,853L880.5,841L880.5,834L878.4,829.5Z" fill="url(#pa)"/>
<path d="M862.3,918L862.7,945L863,963L861.8,967L863.1,971L863.2,991L862.1,1000L863,1009L864,1021L865.7,1032L867.2,1037L868.4,1039L869.6,1039L870.8,1037L872.3,1032L874,1021L875,1009L875.9,1000L874.8,991L874.9,971L876.2,967L875,963L875.3,945L875.7,918Z" fill="url(#pb)"/>
<path d="M860.7,830.5L859.1,834L859.1,841L861,853L862.6,866L863.2,881L863.5,897L863.7,910L862.8,914L863.9,918L863.9,920L874.1,920L874.1,918L875.2,914L874.3,910L874.5,897L874.8,881L875.4,866L877,853L878.9,841L878.9,834L877.3,830.5Z" class="bk"/>
<path d="M863.2,918L863.6,945L863.9,963L862.7,967L864,971L864.1,991L863,1000L863.9,1009L864.9,1021L866.6,1032L868.1,1037L869.9,1037L871.4,1032L873.1,1021L874.1,1009L875,1000L873.9,991L874,971L875.3,967L874.1,963L874.4,945L874.8,918Z" class="bk" style="stroke-width:2.8"/>
<path d="M859.6,829.5L857.5,834L857.5,841L859.4,853L861,866L861.6,881L861.9,897L862.1,910L861.2,914L862.3,918L862.7,945L863,963L861.8,967L863.1,971L863.2,991L862.1,1000L863,1009L864,1021L865.7,1032L867.2,1037L868.4,1039L869.6,1039L870.8,1037L872.3,1032L874,1021L875,1009L875.9,1000L874.8,991L874.9,971L876.2,967L875,963L875.3,945L875.7,918L876.8,914L875.9,910L876.1,897L876.4,881L877,866L878.6,853L880.5,841L880.5,834L878.4,829.5Z" class="bd"/>
<path d="M862.6,960 l-4.6,5.5 l5.6,0.8z M875.4,960 l4.6,5.5 l-5.6,0.8z" fill="#000"/>
<path d="M862.1,906 l-3.6,5.5 l4.6,0.8z M875.9,906 l3.6,5.5 l-4.6,0.8z" fill="#000"/>
<path d="M862.5,997 l-3.2,5.5 l4.2,0.8z M875.5,997 l3.2,5.5 l-4.2,0.8z" fill="#000"/>
<path d="M852,830.9 C852,826.9 861,824.6 869,824.6 C877,824.6 886,826.9 886,830.9 C886,833.2 882.5,832.8 880.5,831.2 C876.5,829.3 861.5,829.3 857.5,831.2 C855.5,832.8 852,833.2 852,830.9Z" class="cp"/>
<path d="M869,818 v7" class="st"/>
<rect x="863.3" y="807" width="11.4" height="11.7" class="sq"/></g>
<g><path d="M788.6,849.2L786.5,853.7L786.5,860.7L788.4,872.7L790,885.7L790.6,900.7L790.9,916.7L791.1,929.7L790.2,933.7L791.3,937.7L804.7,937.7L805.8,933.7L804.9,929.7L805.1,916.7L805.4,900.7L806,885.7L807.6,872.7L809.5,860.7L809.5,853.7L807.4,849.2Z" fill="url(#pa)"/>
<path d="M791.3,937.7L791.7,964.7L792,982.7L790.8,986.7L792.1,990.7L792.2,1010.7L791.1,1019.7L792,1028.7L793,1040.7L794.7,1051.7L796.2,1056.7L797.4,1058.7L798.6,1058.7L799.8,1056.7L801.3,1051.7L803,1040.7L804,1028.7L804.9,1019.7L803.8,1010.7L803.9,990.7L805.2,986.7L804,982.7L804.3,964.7L804.7,937.7Z" fill="url(#pb)"/>
<path d="M789.7,850.2L788.1,853.7L788.1,860.7L790,872.7L791.6,885.7L792.2,900.7L792.5,916.7L792.7,929.7L791.8,933.7L792.9,937.7L792.9,939.7L803.1,939.7L803.1,937.7L804.2,933.7L803.3,929.7L803.5,916.7L803.8,900.7L804.4,885.7L806,872.7L807.9,860.7L807.9,853.7L806.3,850.2Z" class="bk"/>
<path d="M792.2,937.7L792.6,964.7L792.9,982.7L791.7,986.7L793,990.7L793.1,1010.7L792,1019.7L792.9,1028.7L793.9,1040.7L795.6,1051.7L797.1,1056.7L798.9,1056.7L800.4,1051.7L802.1,1040.7L803.1,1028.7L804,1019.7L802.9,1010.7L803,990.7L804.3,986.7L803.1,982.7L803.4,964.7L803.8,937.7Z" class="bk" style="stroke-width:2.8"/>
<path d="M788.6,849.2L786.5,853.7L786.5,860.7L788.4,872.7L790,885.7L790.6,900.7L790.9,916.7L791.1,929.7L790.2,933.7L791.3,937.7L791.7,964.7L792,982.7L790.8,986.7L792.1,990.7L792.2,1010.7L791.1,1019.7L792,1028.7L793,1040.7L794.7,1051.7L796.2,1056.7L797.4,1058.7L798.6,1058.7L799.8,1056.7L801.3,1051.7L803,1040.7L804,1028.7L804.9,1019.7L803.8,1010.7L803.9,990.7L805.2,986.7L804,982.7L804.3,964.7L804.7,937.7L805.8,933.7L804.9,929.7L805.1,916.7L805.4,900.7L806,885.7L807.6,872.7L809.5,860.7L809.5,853.7L807.4,849.2Z" class="bd"/>
<path d="M791.6,979.7 l-4.6,5.5 l5.6,0.8z M804.4,979.7 l4.6,5.5 l-5.6,0.8z" fill="#000"/>
<path d="M791.1,925.7 l-3.6,5.5 l4.6,0.8z M804.9,925.7 l3.6,5.5 l-4.6,0.8z" fill="#000"/>
<path d="M791.5,1016.7 l-3.2,5.5 l4.2,0.8z M804.5,1016.7 l3.2,5.5 l-4.2,0.8z" fill="#000"/>
<path d="M781,850.6 C781,846.6 790,844.3 798,844.3 C806,844.3 815,846.6 815,850.6 C815,852.9 811.5,852.5 809.5,850.9 C805.5,849 790.5,849 786.5,850.9 C784.5,852.5 781,852.9 781,850.6Z" class="cp"/>
<path d="M798,837.7 v7" class="st"/>
<rect x="792.3" y="826.7" width="11.4" height="11.7" class="sq"/></g>
<g><path d="M576.1,853.5L574,858L574,865L575.9,877L577.5,890L578.1,905L578.4,921L578.6,934L577.7,938L578.8,942L592.2,942L593.3,938L592.4,934L592.6,921L592.9,905L593.5,890L595.1,877L597,865L597,858L594.9,853.5Z" fill="url(#pa)"/>
<path d="M578.8,942L579.2,969L579.5,987L578.3,991L579.6,995L579.7,1015L578.6,1024L579.5,1033L580.5,1045L582.2,1056L583.7,1061L584.9,1063L586.1,1063L587.3,1061L588.8,1056L590.5,1045L591.5,1033L592.4,1024L591.3,1015L591.4,995L592.7,991L591.5,987L591.8,969L592.2,942Z" fill="url(#pb)"/>
<path d="M577.2,854.5L575.6,858L575.6,865L577.5,877L579.1,890L579.7,905L580,921L580.2,934L579.3,938L580.4,942L580.4,944L590.6,944L590.6,942L591.7,938L590.8,934L591,921L591.3,905L591.9,890L593.5,877L595.4,865L595.4,858L593.8,854.5Z" class="bk"/>
<path d="M579.7,942L580.1,969L580.4,987L579.2,991L580.5,995L580.6,1015L579.5,1024L580.4,1033L581.4,1045L583.1,1056L584.6,1061L586.4,1061L587.9,1056L589.6,1045L590.6,1033L591.5,1024L590.4,1015L590.5,995L591.8,991L590.6,987L590.9,969L591.3,942Z" class="bk" style="stroke-width:2.8"/>
<path d="M576.1,853.5L574,858L574,865L575.9,877L577.5,890L578.1,905L578.4,921L578.6,934L577.7,938L578.8,942L579.2,969L579.5,987L578.3,991L579.6,995L579.7,1015L578.6,1024L579.5,1033L580.5,1045L582.2,1056L583.7,1061L584.9,1063L586.1,1063L587.3,1061L588.8,1056L590.5,1045L591.5,1033L592.4,1024L591.3,1015L591.4,995L592.7,991L591.5,987L591.8,969L592.2,942L593.3,938L592.4,934L592.6,921L592.9,905L593.5,890L595.1,877L597,865L597,858L594.9,853.5Z" class="bd"/>
<path d="M579.1,984 l-4.6,5.5 l5.6,0.8z M591.9,984 l4.6,5.5 l-5.6,0.8z" fill="#000"/>
<path d="M578.6,930 l-3.6,5.5 l4.6,0.8z M592.4,930 l3.6,5.5 l-4.6,0.8z" fill="#000"/>
<path d="M579,1021 l-3.2,5.5 l4.2,0.8z M592,1021 l3.2,5.5 l-4.2,0.8z" fill="#000"/>
<path d="M568.5,854.9 C568.5,850.9 577.5,848.6 585.5,848.6 C593.5,848.6 602.5,850.9 602.5,854.9 C602.5,857.2 599,856.8 597,855.2 C593,853.3 578,853.3 574,855.2 C572,856.8 568.5,857.2 568.5,854.9Z" class="cp"/>
<path d="M585.5,842 v7" class="st"/>
<rect x="579.8" y="831" width="11.4" height="11.7" class="sq"/></g>
<g><path d="M741.6,871L739.5,875.5L739.5,882.5L741.4,894.5L743,907.5L743.6,922.5L743.9,938.5L744.1,951.5L743.2,955.5L744.3,959.5L757.7,959.5L758.8,955.5L757.9,951.5L758.1,938.5L758.4,922.5L759,907.5L760.6,894.5L762.5,882.5L762.5,875.5L760.4,871Z" fill="url(#pa)"/>
<path d="M744.3,959.5L744.7,986.5L745,1004.5L743.8,1008.5L745.1,1012.5L745.2,1032.5L744.1,1041.5L745,1050.5L746,1062.5L747.7,1073.5L749.2,1078.5L750.4,1080.5L751.6,1080.5L752.8,1078.5L754.3,1073.5L756,1062.5L757,1050.5L757.9,1041.5L756.8,1032.5L756.9,1012.5L758.2,1008.5L757,1004.5L757.3,986.5L757.7,959.5Z" fill="url(#pb)"/>
<path d="M742.7,872L741.1,875.5L741.1,882.5L743,894.5L744.6,907.5L745.2,922.5L745.5,938.5L745.7,951.5L744.8,955.5L745.9,959.5L745.9,961.5L756.1,961.5L756.1,959.5L757.2,955.5L756.3,951.5L756.5,938.5L756.8,922.5L757.4,907.5L759,894.5L760.9,882.5L760.9,875.5L759.3,872Z" class="bk"/>
<path d="M745.2,959.5L745.6,986.5L745.9,1004.5L744.7,1008.5L746,1012.5L746.1,1032.5L745,1041.5L745.9,1050.5L746.9,1062.5L748.6,1073.5L750.1,1078.5L751.9,1078.5L753.4,1073.5L755.1,1062.5L756.1,1050.5L757,1041.5L755.9,1032.5L756,1012.5L757.3,1008.5L756.1,1004.5L756.4,986.5L756.8,959.5Z" class="bk" style="stroke-width:2.8"/>
<path d="M741.6,871L739.5,875.5L739.5,882.5L741.4,894.5L743,907.5L743.6,922.5L743.9,938.5L744.1,951.5L743.2,955.5L744.3,959.5L744.7,986.5L745,1004.5L743.8,1008.5L745.1,1012.5L745.2,1032.5L744.1,1041.5L745,1050.5L746,1062.5L747.7,1073.5L749.2,1078.5L750.4,1080.5L751.6,1080.5L752.8,1078.5L754.3,1073.5L756,1062.5L757,1050.5L757.9,1041.5L756.8,1032.5L756.9,1012.5L758.2,1008.5L757,1004.5L757.3,986.5L757.7,959.5L758.8,955.5L757.9,951.5L758.1,938.5L758.4,922.5L759,907.5L760.6,894.5L762.5,882.5L762.5,875.5L760.4,871Z" class="bd"/>
<path d="M744.6,1001.5 l-4.6,5.5 l5.6,0.8z M757.4,1001.5 l4.6,5.5 l-5.6,0.8z" fill="#000"/>
<path d="M744.1,947.5 l-3.6,5.5 l4.6,0.8z M757.9,947.5 l3.6,5.5 l-4.6,0.8z" fill="#000"/>
<path d="M744.5,1038.5 l-3.2,5.5 l4.2,0.8z M757.5,1038.5 l3.2,5.5 l-4.2,0.8z" fill="#000"/>
<path d="M734,872.4 C734,868.4 743,866.1 751,866.1 C759,866.1 768,868.4 768,872.4 C768,874.7 764.5,874.3 762.5,872.7 C758.5,870.8 743.5,870.8 739.5,872.7 C737.5,874.3 734,874.7 734,872.4Z" class="cp"/>
<path d="M751,859.5 v7" class="st"/>
<rect x="745.3" y="848.5" width="11.4" height="11.7" class="sq"/></g>
<g><path d="M677.4,877.5L675.2,882L675.2,889L677.1,901L678.8,914L679.4,929L679.6,945L679.9,958L679,962L680,966L693.5,966L694.5,962L693.6,958L693.9,945L694.1,929L694.8,914L696.4,901L698.2,889L698.2,882L696.1,877.5Z" fill="url(#pa)"/>
<path d="M680,966L680.5,993L680.8,1011L679.5,1015L680.9,1019L681,1039L679.9,1048L680.8,1057L681.8,1069L683.5,1080L685,1085L686.1,1087L687.4,1087L688.5,1085L690,1080L691.8,1069L692.8,1057L693.6,1048L692.5,1039L692.6,1019L694,1015L692.8,1011L693,993L693.5,966Z" fill="url(#pb)"/>
<path d="M678.5,878.5L676.9,882L676.9,889L678.8,901L680.4,914L681,929L681.2,945L681.5,958L680.5,962L681.6,966L681.7,968L691.8,968L691.9,966L693,962L692,958L692.2,945L692.5,929L693.1,914L694.8,901L696.6,889L696.6,882L695,878.5Z" class="bk"/>
<path d="M681,966L681.4,993L681.6,1011L680.5,1015L681.8,1019L681.9,1039L680.8,1048L681.6,1057L682.6,1069L684.4,1080L685.9,1085L687.6,1085L689.1,1080L690.9,1069L691.9,1057L692.8,1048L691.6,1039L691.8,1019L693,1015L691.9,1011L692.1,993L692.5,966Z" class="bk" style="stroke-width:2.8"/>
<path d="M677.4,877.5L675.2,882L675.2,889L677.1,901L678.8,914L679.4,929L679.6,945L679.9,958L679,962L680,966L680.5,993L680.8,1011L679.5,1015L680.9,1019L681,1039L679.9,1048L680.8,1057L681.8,1069L683.5,1080L685,1085L686.1,1087L687.4,1087L688.5,1085L690,1080L691.8,1069L692.8,1057L693.6,1048L692.5,1039L692.6,1019L694,1015L692.8,1011L693,993L693.5,966L694.5,962L693.6,958L693.9,945L694.1,929L694.8,914L696.4,901L698.2,889L698.2,882L696.1,877.5Z" class="bd"/>
<path d="M680.4,1008 l-4.6,5.5 l5.6,0.8z M693.1,1008 l4.6,5.5 l-5.6,0.8z" fill="#000"/>
<path d="M679.8,954 l-3.6,5.5 l4.6,0.8z M693.7,954 l3.6,5.5 l-4.6,0.8z" fill="#000"/>
<path d="M680.2,1045 l-3.2,5.5 l4.2,0.8z M693.2,1045 l3.2,5.5 l-4.2,0.8z" fill="#000"/>
<path d="M669.8,878.9 C669.8,874.9 678.8,872.6 686.8,872.6 C694.8,872.6 703.8,874.9 703.8,878.9 C703.8,881.2 700.2,880.8 698.2,879.2 C694.2,877.3 679.2,877.3 675.2,879.2 C673.2,880.8 669.8,881.2 669.8,878.9Z" class="cp"/>
<path d="M686.8,866 v7" class="st"/>
<rect x="681" y="855" width="11.4" height="11.7" class="sq"/></g>
<path d="M814,852C815.6,851.8 820.9,852.2 823.5,851C826.1,849.8 828.8,847.2 829.5,844.5C830.2,841.8 830.3,837.5 828,835C825.7,832.5 821.2,830.5 815.5,829.5C809.8,828.5 799.1,829.3 794,829C788.9,828.7 786.6,828.7 785,827.8C783.4,826.9 783,824.6 784.5,823.5C786,822.4 789.8,821.4 794,821C798.2,820.6 804.3,822.5 809.5,821C814.7,819.5 821.4,816.4 825,812C828.6,807.6 830.2,801.3 831,794.5C831.8,787.7 830.1,777.2 829.7,771C829.3,764.8 828.3,761.8 828.5,757C828.7,752.2 830.6,744.5 831,742" class="to"/><path d="M814,852C815.6,851.8 820.9,852.2 823.5,851C826.1,849.8 828.8,847.2 829.5,844.5C830.2,841.8 830.3,837.5 828,835C825.7,832.5 821.2,830.5 815.5,829.5C809.8,828.5 799.1,829.3 794,829C788.9,828.7 786.6,828.7 785,827.8C783.4,826.9 783,824.6 784.5,823.5C786,822.4 789.8,821.4 794,821C798.2,820.6 804.3,822.5 809.5,821C814.7,819.5 821.4,816.4 825,812C828.6,807.6 830.2,801.3 831,794.5C831.8,787.7 830.1,777.2 829.7,771C829.3,764.8 828.3,761.8 828.5,757C828.7,752.2 830.6,744.5 831,742" class="ti"/>
<path d="M718.4,294.1L718.9,295.2L719.5,296.5L720.2,298.1L721,299.8L721.9,301.8L722.9,303.9L723.9,306.2L724.9,308.7L726.2,311.4L727.6,314.4L729.2,317.6L730.7,320.9L732.3,324.3L733.7,327.5L734.9,330.6L735.8,333.3L736.5,335.8L737,338.1L737.3,340.3L737.6,342.5L737.7,344.6L737.7,346.7L737.7,348.8L737.7,350.9L737.6,353L737.5,355L737.3,356.9L737,358.8L736.7,360.7L736.3,362.7L735.7,364.9L735.1,367.2L734.3,369.5L733.4,372L732.2,374.6L731,377.4L729.8,380.3L728.5,383.5L727.4,386.7L726.4,390.2L725.5,393.7L724.5,397.5L723.7,401.5L722.9,405.6L722.2,409.7L721.6,413.9L721.3,418L721.2,422L721.3,425.9L721.6,429.7L722,433.5L722.6,437.3L723.4,441L724.4,444.7L725.6,448.3L727,451.9L728.7,455.5L730.7,458.9L733,462.2L735.3,465.3L737.7,468.4L740.2,471.5L742.6,474.5L744.9,477.6L747.2,480.7L749.7,483.9L752.2,487L754.7,490.1L757.1,493.2L759.3,496.3L761.3,499.3L763.1,502.2L764.7,505.2L766.2,508.3L767.6,511.4L768.8,514.4L769.9,517.4L770.9,520.4L771.7,523.4L772.4,526.2L773,528.9L773.4,531.5L773.7,534.1L773.8,536.6L773.8,539.1L773.7,541.7L773.5,544.4L773.2,547.2L772.9,550L772.4,552.8L771.9,555.6L771.3,558.4L770.5,561.4L769.6,564.6L768.6,568L767.3,571.8L765.8,575.9L764.1,580.4L762.1,585.2L760,590.2L757.9,595.2L755.8,600.2L753.8,604.8L751.9,609.2L750.2,613.2L748.4,617.2L746.7,621L745,624.7L743.5,628.2L741.9,631.4L740.5,634.4L739.3,637.2L738.1,639.6L737,641.7L736,643.6L735.1,645.3L734.3,646.8L733.5,648.1L732.9,649.2L732.4,650.1L735.6,651.9L736.1,651L736.7,649.9L737.5,648.7L738.3,647.2L739.3,645.4L740.4,643.5L741.5,641.3L742.7,638.8L744.1,636.1L745.5,633.1L747.1,629.9L748.7,626.4L750.4,622.7L752.1,618.8L753.9,614.9L755.7,610.8L757.6,606.5L759.6,601.8L761.8,596.9L764,591.9L766.1,586.9L768.1,582L769.9,577.4L771.5,573.2L772.8,569.5L774,566L775,562.7L775.9,559.6L776.7,556.6L777.4,553.7L777.9,550.8L778.4,547.8L778.8,544.9L779.1,542.1L779.3,539.3L779.4,536.5L779.4,533.7L779.2,530.9L778.9,528L778.4,525L777.7,521.9L776.9,518.7L775.9,515.5L774.8,512.2L773.6,508.9L772.2,505.5L770.6,502.3L768.9,499L766.9,495.7L764.7,492.4L762.3,489.2L759.8,486.1L757.3,482.9L754.9,479.8L752.5,476.7L750.1,473.6L747.8,470.5L745.4,467.4L742.9,464.3L740.6,461.3L738.3,458.3L736.3,455.3L734.5,452.3L733,449.3L731.8,446.1L730.7,442.8L729.8,439.5L729.1,436.1L728.5,432.6L728.1,429.1L727.9,425.6L727.8,422L727.9,418.4L728.2,414.6L728.7,410.7L729.4,406.7L730.1,402.8L731,399L731.8,395.3L732.6,391.8L733.5,388.7L734.5,385.6L735.6,382.7L736.8,379.8L738,377L739.1,374.3L740.1,371.5L740.9,368.8L741.5,366.3L742.1,364L742.5,361.8L742.8,359.6L743,357.5L743.2,355.4L743.3,353.3L743.3,351.1L743.3,348.8L743.3,346.6L743.3,344.3L743.1,342L742.9,339.6L742.5,337.1L741.9,334.5L741.2,331.7L740.2,328.6L738.9,325.4L737.4,322L735.8,318.6L734.2,315.2L732.7,312L731.3,309L730.1,306.3L729,303.9L728,301.7L727,299.5L726.1,297.5L725.3,295.8L724.6,294.2L724,292.9L723.6,291.9Z" fill="#000" stroke="#000" stroke-width="0.4" stroke-linejoin="round"/><path d="M738,642 l-6,11 M740.5,644 l-4.5,10.5 M736,640 l-7,10 M734,652 l-3,-4" stroke="#000" stroke-width="1.6"/>
</svg></body></html>
